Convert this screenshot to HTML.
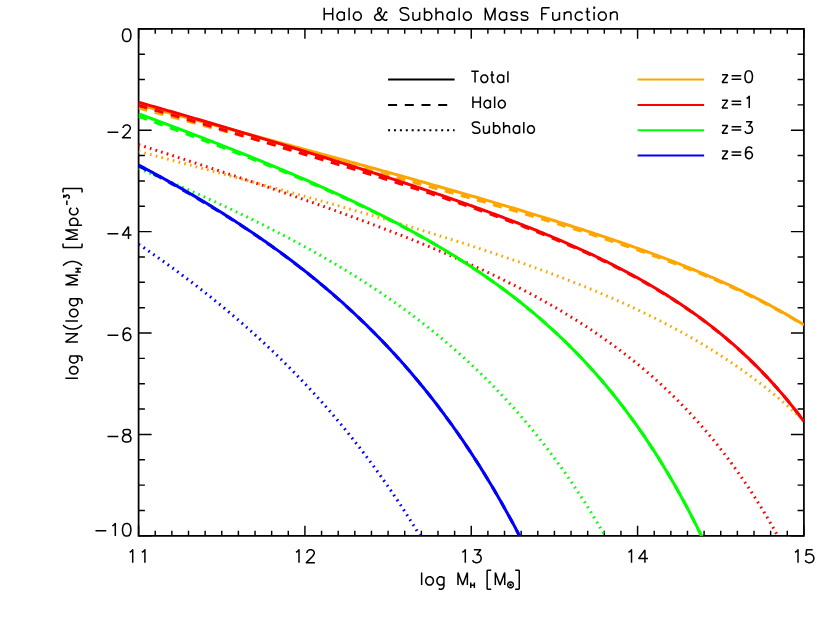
<!DOCTYPE html>
<html><head><meta charset="utf-8"><title>Halo &amp; Subhalo Mass Function</title>
<style>html,body{margin:0;padding:0;background:#fff;font-family:"Liberation Sans",sans-serif;}svg{display:block}</style></head>
<body><svg width="830" height="624" viewBox="0 0 830 624">
<rect width="830" height="624" fill="#fff"/>
<clipPath id="cp"><rect x="138.6" y="28.85" width="665.3" height="506.95"/></clipPath>
<path d="M138.6 28.85 H803.9 V535.8 H138.6 Z" stroke="#000" stroke-width="1.75" fill="none" stroke-linejoin="miter"/>
<path d="M138.60 28.85 v10 M138.60 535.8 v-10 M155.23 28.85 v5 M155.23 535.8 v-5 M171.87 28.85 v5 M171.87 535.8 v-5 M188.50 28.85 v5 M188.50 535.8 v-5 M205.13 28.85 v5 M205.13 535.8 v-5 M221.76 28.85 v5 M221.76 535.8 v-5 M238.39 28.85 v5 M238.39 535.8 v-5 M255.03 28.85 v5 M255.03 535.8 v-5 M271.66 28.85 v5 M271.66 535.8 v-5 M288.29 28.85 v5 M288.29 535.8 v-5 M304.92 28.85 v10 M304.92 535.8 v-10 M321.56 28.85 v5 M321.56 535.8 v-5 M338.19 28.85 v5 M338.19 535.8 v-5 M354.82 28.85 v5 M354.82 535.8 v-5 M371.45 28.85 v5 M371.45 535.8 v-5 M388.09 28.85 v5 M388.09 535.8 v-5 M404.72 28.85 v5 M404.72 535.8 v-5 M421.35 28.85 v5 M421.35 535.8 v-5 M437.99 28.85 v5 M437.99 535.8 v-5 M454.62 28.85 v5 M454.62 535.8 v-5 M471.25 28.85 v10 M471.25 535.8 v-10 M487.88 28.85 v5 M487.88 535.8 v-5 M504.51 28.85 v5 M504.51 535.8 v-5 M521.15 28.85 v5 M521.15 535.8 v-5 M537.78 28.85 v5 M537.78 535.8 v-5 M554.41 28.85 v5 M554.41 535.8 v-5 M571.04 28.85 v5 M571.04 535.8 v-5 M587.68 28.85 v5 M587.68 535.8 v-5 M604.31 28.85 v5 M604.31 535.8 v-5 M620.94 28.85 v5 M620.94 535.8 v-5 M637.58 28.85 v10 M637.58 535.8 v-10 M654.21 28.85 v5 M654.21 535.8 v-5 M670.84 28.85 v5 M670.84 535.8 v-5 M687.47 28.85 v5 M687.47 535.8 v-5 M704.10 28.85 v5 M704.10 535.8 v-5 M720.74 28.85 v5 M720.74 535.8 v-5 M737.37 28.85 v5 M737.37 535.8 v-5 M754.00 28.85 v5 M754.00 535.8 v-5 M770.63 28.85 v5 M770.63 535.8 v-5 M787.27 28.85 v5 M787.27 535.8 v-5 M803.90 28.85 v10 M803.90 535.8 v-10 M138.6 28.85 h13 M803.9 28.85 h-13 M138.6 54.20 h6.3 M803.9 54.20 h-6.3 M138.6 79.54 h6.3 M803.9 79.54 h-6.3 M138.6 104.89 h6.3 M803.9 104.89 h-6.3 M138.6 130.24 h13 M803.9 130.24 h-13 M138.6 155.59 h6.3 M803.9 155.59 h-6.3 M138.6 180.93 h6.3 M803.9 180.93 h-6.3 M138.6 206.28 h6.3 M803.9 206.28 h-6.3 M138.6 231.63 h13 M803.9 231.63 h-13 M138.6 256.98 h6.3 M803.9 256.98 h-6.3 M138.6 282.32 h6.3 M803.9 282.32 h-6.3 M138.6 307.67 h6.3 M803.9 307.67 h-6.3 M138.6 333.02 h13 M803.9 333.02 h-13 M138.6 358.37 h6.3 M803.9 358.37 h-6.3 M138.6 383.71 h6.3 M803.9 383.71 h-6.3 M138.6 409.06 h6.3 M803.9 409.06 h-6.3 M138.6 434.41 h13 M803.9 434.41 h-13 M138.6 459.76 h6.3 M803.9 459.76 h-6.3 M138.6 485.10 h6.3 M803.9 485.10 h-6.3 M138.6 510.45 h6.3 M803.9 510.45 h-6.3 M138.6 535.80 h13 M803.9 535.80 h-13" stroke="#000" stroke-width="1.45" fill="none" stroke-linejoin="round" stroke-linecap="butt"/>
<g clip-path="url(#cp)"><path d="M138.60 104.66 L140.27 105.11 L141.93 105.56 L143.60 106.00 L145.27 106.45 L146.94 106.89 L148.60 107.34 L150.27 107.79 L151.94 108.23 L153.61 108.68 L155.27 109.13 L156.94 109.57 L158.61 110.02 L160.28 110.47 L161.94 110.92 L163.61 111.36 L165.28 111.81 L166.95 112.26 L168.61 112.70 L170.28 113.15 L171.95 113.60 L173.62 114.04 L175.28 114.49 L176.95 114.94 L178.62 115.39 L180.29 115.83 L181.95 116.28 L183.62 116.73 L185.29 117.18 L186.96 117.62 L188.62 118.07 L190.29 118.52 L191.96 118.97 L193.62 119.41 L195.29 119.86 L196.96 120.31 L198.63 120.76 L200.29 121.21 L201.96 121.65 L203.63 122.10 L205.30 122.55 L206.96 123.00 L208.63 123.45 L210.30 123.90 L211.97 124.34 L213.63 124.79 L215.30 125.24 L216.97 125.69 L218.64 126.14 L220.30 126.59 L221.97 127.04 L223.64 127.48 L225.31 127.93 L226.97 128.38 L228.64 128.83 L230.31 129.28 L231.98 129.73 L233.64 130.18 L235.31 130.63 L236.98 131.08 L238.65 131.53 L240.31 131.98 L241.98 132.43 L243.65 132.88 L245.31 133.33 L246.98 133.78 L248.65 134.23 L250.32 134.68 L251.98 135.13 L253.65 135.58 L255.32 136.03 L256.99 136.48 L258.65 136.93 L260.32 137.38 L261.99 137.83 L263.66 138.28 L265.32 138.73 L266.99 139.18 L268.66 139.63 L270.33 140.08 L271.99 140.54 L273.66 140.99 L275.33 141.44 L277.00 141.89 L278.66 142.34 L280.33 142.79 L282.00 143.25 L283.67 143.70 L285.33 144.15 L287.00 144.60 L288.67 145.05 L290.34 145.51 L292.00 145.96 L293.67 146.41 L295.34 146.86 L297.00 147.32 L298.67 147.77 L300.34 148.22 L302.01 148.68 L303.67 149.13 L305.34 149.58 L307.01 150.04 L308.68 150.49 L310.34 150.95 L312.01 151.40 L313.68 151.85 L315.35 152.31 L317.01 152.76 L318.68 153.22 L320.35 153.67 L322.02 154.13 L323.68 154.58 L325.35 155.04 L327.02 155.49 L328.69 155.95 L330.35 156.40 L332.02 156.86 L333.69 157.32 L335.36 157.77 L337.02 158.23 L338.69 158.69 L340.36 159.14 L342.03 159.60 L343.69 160.06 L345.36 160.51 L347.03 160.97 L348.69 161.43 L350.36 161.89 L352.03 162.35 L353.70 162.80 L355.36 163.26 L357.03 163.72 L358.70 164.18 L360.37 164.64 L362.03 165.10 L363.70 165.56 L365.37 166.02 L367.04 166.48 L368.70 166.94 L370.37 167.40 L372.04 167.86 L373.71 168.32 L375.37 168.78 L377.04 169.24 L378.71 169.70 L380.38 170.17 L382.04 170.63 L383.71 171.09 L385.38 171.55 L387.05 172.02 L388.71 172.48 L390.38 172.94 L392.05 173.41 L393.72 173.87 L395.38 174.33 L397.05 174.80 L398.72 175.26 L400.38 175.73 L402.05 176.19 L403.72 176.66 L405.39 177.13 L407.05 177.59 L408.72 178.06 L410.39 178.53 L412.06 178.99 L413.72 179.46 L415.39 179.93 L417.06 180.40 L418.73 180.86 L420.39 181.33 L422.06 181.80 L423.73 182.27 L425.40 182.74 L427.06 183.21 L428.73 183.68 L430.40 184.15 L432.07 184.63 L433.73 185.10 L435.40 185.57 L437.07 186.04 L438.74 186.51 L440.40 186.99 L442.07 187.46 L443.74 187.94 L445.41 188.41 L447.07 188.89 L448.74 189.36 L450.41 189.84 L452.07 190.31 L453.74 190.79 L455.41 191.27 L457.08 191.75 L458.74 192.22 L460.41 192.70 L462.08 193.18 L463.75 193.66 L465.41 194.14 L467.08 194.62 L468.75 195.10 L470.42 195.58 L472.08 196.07 L473.75 196.55 L475.42 197.03 L477.09 197.52 L478.75 198.00 L480.42 198.48 L482.09 198.97 L483.76 199.46 L485.42 199.94 L487.09 200.43 L488.76 200.92 L490.43 201.41 L492.09 201.89 L493.76 202.38 L495.43 202.87 L497.09 203.37 L498.76 203.86 L500.43 204.35 L502.10 204.84 L503.76 205.34 L505.43 205.83 L507.10 206.32 L508.77 206.82 L510.43 207.32 L512.10 207.81 L513.77 208.31 L515.44 208.81 L517.10 209.31 L518.77 209.81 L520.44 210.31 L522.11 210.81 L523.77 211.31 L525.44 211.82 L527.11 212.32 L528.78 212.83 L530.44 213.33 L532.11 213.84 L533.78 214.35 L535.45 214.86 L537.11 215.36 L538.78 215.87 L540.45 216.39 L542.12 216.90 L543.78 217.41 L545.45 217.92 L547.12 218.44 L548.78 218.96 L550.45 219.47 L552.12 219.99 L553.79 220.51 L555.45 221.03 L557.12 221.55 L558.79 222.07 L560.46 222.60 L562.12 223.12 L563.79 223.64 L565.46 224.17 L567.13 224.70 L568.79 225.23 L570.46 225.76 L572.13 226.29 L573.80 226.82 L575.46 227.35 L577.13 227.89 L578.80 228.43 L580.47 228.96 L582.13 229.50 L583.80 230.04 L585.47 230.58 L587.14 231.13 L588.80 231.67 L590.47 232.22 L592.14 232.76 L593.81 233.31 L595.47 233.86 L597.14 234.41 L598.81 234.96 L600.47 235.52 L602.14 236.07 L603.81 236.63 L605.48 237.19 L607.14 237.75 L608.81 238.31 L610.48 238.88 L612.15 239.44 L613.81 240.01 L615.48 240.58 L617.15 241.15 L618.82 241.72 L620.48 242.29 L622.15 242.87 L623.82 243.45 L625.49 244.03 L627.15 244.61 L628.82 245.19 L630.49 245.78 L632.16 246.36 L633.82 246.95 L635.49 247.54 L637.16 248.14 L638.83 248.73 L640.49 249.33 L642.16 249.93 L643.83 250.53 L645.50 251.13 L647.16 251.74 L648.83 252.35 L650.50 252.96 L652.16 253.57 L653.83 254.19 L655.50 254.81 L657.17 255.43 L658.83 256.05 L660.50 256.67 L662.17 257.30 L663.84 257.93 L665.50 258.56 L667.17 259.20 L668.84 259.84 L670.51 260.48 L672.17 261.12 L673.84 261.77 L675.51 262.41 L677.18 263.07 L678.84 263.72 L680.51 264.38 L682.18 265.04 L683.85 265.70 L685.51 266.37 L687.18 267.04 L688.85 267.71 L690.52 268.39 L692.18 269.07 L693.85 269.75 L695.52 270.43 L697.19 271.12 L698.85 271.81 L700.52 272.51 L702.19 273.21 L703.85 273.91 L705.52 274.62 L707.19 275.33 L708.86 276.04 L710.52 276.76 L712.19 277.48 L713.86 278.21 L715.53 278.94 L717.19 279.67 L718.86 280.41 L720.53 281.15 L722.20 281.89 L723.86 282.64 L725.53 283.40 L727.20 284.15 L728.87 284.92 L730.53 285.68 L732.20 286.45 L733.87 287.23 L735.54 288.01 L737.20 288.79 L738.87 289.58 L740.54 290.38 L742.21 291.18 L743.87 291.98 L745.54 292.79 L747.21 293.61 L748.88 294.43 L750.54 295.25 L752.21 296.08 L753.88 296.92 L755.54 297.76 L757.21 298.60 L758.88 299.45 L760.55 300.31 L762.21 301.18 L763.88 302.04 L765.55 302.92 L767.22 303.80 L768.88 304.69 L770.55 305.58 L772.22 306.48 L773.89 307.39 L775.55 308.30 L777.22 309.22 L778.89 310.14 L780.56 311.07 L782.22 312.01 L783.89 312.96 L785.56 313.91 L787.23 314.87 L788.89 315.84 L790.56 316.81 L792.23 317.79 L793.90 318.78 L795.56 319.77 L797.23 320.78 L798.90 321.79 L800.57 322.81 L802.23 323.84 L803.90 324.87" stroke="#ffa500" stroke-width="3" fill="none"/><path d="M138.60 107.96 L140.27 108.41 L141.93 108.86 L143.60 109.31 L145.27 109.76 L146.94 110.20 L148.60 110.65 L150.27 111.10 L151.94 111.55 L153.61 112.00 L155.27 112.45 L156.94 112.90 L158.61 113.35 L160.28 113.79 L161.94 114.24 L163.61 114.69 L165.28 115.14 L166.95 115.59 L168.61 116.04 L170.28 116.49 L171.95 116.94 L173.62 117.39 L175.28 117.84 L176.95 118.29 L178.62 118.73 L180.29 119.18 L181.95 119.63 L183.62 120.08 L185.29 120.53 L186.96 120.98 L188.62 121.43 L190.29 121.88 L191.96 122.33 L193.62 122.78 L195.29 123.23 L196.96 123.68 L198.63 124.13 L200.29 124.58 L201.96 125.03 L203.63 125.48 L205.30 125.93 L206.96 126.38 L208.63 126.83 L210.30 127.28 L211.97 127.73 L213.63 128.18 L215.30 128.63 L216.97 129.08 L218.64 129.53 L220.30 129.99 L221.97 130.44 L223.64 130.88 L225.31 131.33 L226.97 131.77 L228.64 132.22 L230.31 132.66 L231.98 133.11 L233.64 133.55 L235.31 134.00 L236.98 134.44 L238.65 134.89 L240.31 135.33 L241.98 135.78 L243.65 136.22 L245.31 136.67 L246.98 137.12 L248.65 137.56 L250.32 138.01 L251.98 138.45 L253.65 138.90 L255.32 139.35 L256.99 139.79 L258.65 140.24 L260.32 140.69 L261.99 141.13 L263.66 141.58 L265.32 142.03 L266.99 142.47 L268.66 142.92 L270.33 143.37 L271.99 143.81 L273.66 144.26 L275.33 144.71 L277.00 145.16 L278.66 145.60 L280.33 146.05 L282.00 146.50 L283.67 146.95 L285.33 147.40 L287.00 147.84 L288.67 148.29 L290.34 148.74 L292.00 149.19 L293.67 149.64 L295.34 150.09 L297.00 150.54 L298.67 150.99 L300.34 151.43 L302.01 151.88 L303.67 152.33 L305.34 152.78 L307.01 153.23 L308.68 153.68 L310.34 154.13 L312.01 154.58 L313.68 155.03 L315.35 155.48 L317.01 155.93 L318.68 156.38 L320.35 156.84 L322.02 157.29 L323.68 157.74 L325.35 158.19 L327.02 158.64 L328.69 159.09 L330.35 159.54 L332.02 160.00 L333.69 160.45 L335.36 160.90 L337.02 161.35 L338.69 161.81 L340.36 162.26 L342.03 162.71 L343.69 163.16 L345.36 163.62 L347.03 164.07 L348.69 164.52 L350.36 164.98 L352.03 165.43 L353.70 165.89 L355.36 166.34 L357.03 166.80 L358.70 167.25 L360.37 167.71 L362.03 168.16 L363.70 168.62 L365.37 169.07 L367.04 169.53 L368.70 169.98 L370.37 170.44 L372.04 170.90 L373.71 171.35 L375.37 171.81 L377.04 172.27 L378.71 172.73 L380.38 173.18 L382.04 173.64 L383.71 174.10 L385.38 174.56 L387.05 175.02 L388.71 175.48 L390.38 175.93 L392.05 176.38 L393.72 176.84 L395.38 177.29 L397.05 177.75 L398.72 178.20 L400.38 178.65 L402.05 179.11 L403.72 179.57 L405.39 180.02 L407.05 180.48 L408.72 180.93 L410.39 181.39 L412.06 181.85 L413.72 182.31 L415.39 182.76 L417.06 183.22 L418.73 183.68 L420.39 184.14 L422.06 184.60 L423.73 185.06 L425.40 185.52 L427.06 185.98 L428.73 186.44 L430.40 186.90 L432.07 187.36 L433.73 187.82 L435.40 188.29 L437.07 188.75 L438.74 189.21 L440.40 189.67 L442.07 190.14 L443.74 190.60 L445.41 191.07 L447.07 191.53 L448.74 192.00 L450.41 192.46 L452.07 192.93 L453.74 193.40 L455.41 193.86 L457.08 194.33 L458.74 194.80 L460.41 195.27 L462.08 195.74 L463.75 196.21 L465.41 196.68 L467.08 197.15 L468.75 197.62 L470.42 198.09 L472.08 198.56 L473.75 199.04 L475.42 199.51 L477.09 199.99 L478.75 200.46 L480.42 200.94 L482.09 201.42 L483.76 201.90 L485.42 202.37 L487.09 202.85 L488.76 203.33 L490.43 203.81 L492.09 204.29 L493.76 204.78 L495.43 205.26 L497.09 205.74 L498.76 206.22 L500.43 206.71 L502.10 207.19 L503.76 207.68 L505.43 208.17 L507.10 208.65 L508.77 209.14 L510.43 209.63 L512.10 210.12 L513.77 210.61 L515.44 211.10 L517.10 211.59 L518.77 212.08 L520.44 212.57 L522.11 213.07 L523.77 213.56 L525.44 214.06 L527.11 214.55 L528.78 215.05 L530.44 215.55 L532.11 216.05 L533.78 216.55 L535.45 217.05 L537.11 217.55 L538.78 218.05 L540.45 218.55 L542.12 219.06 L543.78 219.56 L545.45 220.07 L547.12 220.57 L548.78 221.08 L550.45 221.59 L552.12 222.10 L553.79 222.61 L555.45 223.12 L557.12 223.64 L558.79 224.15 L560.46 224.67 L562.12 225.18 L563.79 225.70 L565.46 226.22 L567.13 226.74 L568.79 227.26 L570.46 227.78 L572.13 228.30 L573.80 228.83 L575.46 229.35 L577.13 229.88 L578.80 230.41 L580.47 230.94 L582.13 231.47 L583.80 232.00 L585.47 232.53 L587.14 233.07 L588.80 233.60 L590.47 234.14 L592.14 234.68 L593.81 235.22 L595.47 235.76 L597.14 236.31 L598.81 236.85 L600.47 237.40 L602.14 237.94 L603.81 238.49 L605.48 239.04 L607.14 239.60 L608.81 240.15 L610.48 240.71 L612.15 241.26 L613.81 241.82 L615.48 242.38 L617.15 242.95 L618.82 243.51 L620.48 244.08 L622.15 244.64 L623.82 245.21 L625.49 245.78 L627.15 246.36 L628.82 246.93 L630.49 247.51 L632.16 248.09 L633.82 248.67 L635.49 249.25 L637.16 249.84 L638.83 250.42 L640.49 251.01 L642.16 251.59 L643.83 252.18 L645.50 252.77 L647.16 253.36 L648.83 253.95 L650.50 254.55 L652.16 255.15 L653.83 255.75 L655.50 256.35 L657.17 256.96 L658.83 257.57 L660.50 258.18 L662.17 258.79 L663.84 259.41 L665.50 260.03 L667.17 260.65 L668.84 261.27 L670.51 261.90 L672.17 262.53 L673.84 263.16 L675.51 263.80 L677.18 264.43 L678.84 265.07 L680.51 265.72 L682.18 266.36 L683.85 267.01 L685.51 267.66 L687.18 268.32 L688.85 268.98 L690.52 269.64 L692.18 270.31 L693.85 270.97 L695.52 271.65 L697.19 272.32 L698.85 273.00 L700.52 273.68 L702.19 274.37 L703.85 275.05 L705.52 275.75 L707.19 276.44 L708.86 277.14 L710.52 277.85 L712.19 278.55 L713.86 279.26 L715.53 279.98 L717.19 280.70 L718.86 281.42 L720.53 282.15 L722.20 282.88 L723.86 283.62 L725.53 284.36 L727.20 285.11 L728.87 285.86 L730.53 286.61 L732.20 287.37 L733.87 288.13 L735.54 288.90 L737.20 289.68 L738.87 290.45 L740.54 291.24 L742.21 292.02 L743.87 292.82 L745.54 293.61 L747.21 294.42 L748.88 295.22 L750.54 296.04 L752.21 296.85 L753.88 297.68 L755.54 298.51 L757.21 299.34 L758.88 300.18 L760.55 301.02 L762.21 301.88 L763.88 302.73 L765.55 303.60 L767.22 304.46 L768.88 305.34 L770.55 306.22 L772.22 307.11 L773.89 308.00 L775.55 308.90 L777.22 309.81 L778.89 310.72 L780.56 311.64 L782.22 312.57 L783.89 313.50 L785.56 314.44 L787.23 315.39 L788.89 316.34 L790.56 317.31 L792.23 318.27 L793.90 319.25 L795.56 320.24 L797.23 321.23 L798.90 322.23 L800.57 323.23 L802.23 324.25 L803.90 325.27" stroke="#ffa500" stroke-width="3" fill="none" stroke-dasharray="9 7.7"/><path d="M138.60 151.38 L140.27 151.83 L141.93 152.27 L143.60 152.71 L145.27 153.15 L146.94 153.60 L148.60 154.04 L150.27 154.48 L151.94 154.92 L153.61 155.37 L155.27 155.81 L156.94 156.25 L158.61 156.70 L160.28 157.14 L161.94 157.59 L163.61 158.03 L165.28 158.47 L166.95 158.92 L168.61 159.36 L170.28 159.81 L171.95 160.25 L173.62 160.70 L175.28 161.14 L176.95 161.59 L178.62 162.03 L180.29 162.48 L181.95 162.92 L183.62 163.37 L185.29 163.81 L186.96 164.26 L188.62 164.71 L190.29 165.15 L191.96 165.60 L193.62 166.05 L195.29 166.49 L196.96 166.94 L198.63 167.39 L200.29 167.84 L201.96 168.28 L203.63 168.73 L205.30 169.18 L206.96 169.63 L208.63 170.08 L210.30 170.53 L211.97 170.98 L213.63 171.42 L215.30 171.87 L216.97 172.32 L218.64 172.77 L220.30 173.22 L221.97 173.67 L223.64 174.12 L225.31 174.57 L226.97 175.03 L228.64 175.48 L230.31 175.93 L231.98 176.38 L233.64 176.83 L235.31 177.28 L236.98 177.74 L238.65 178.19 L240.31 178.64 L241.98 179.09 L243.65 179.55 L245.31 180.00 L246.98 180.45 L248.65 180.91 L250.32 181.36 L251.98 181.82 L253.65 182.27 L255.32 182.73 L256.99 183.18 L258.65 183.64 L260.32 184.09 L261.99 184.55 L263.66 185.01 L265.32 185.46 L266.99 185.92 L268.66 186.38 L270.33 186.84 L271.99 187.29 L273.66 187.75 L275.33 188.21 L277.00 188.67 L278.66 189.13 L280.33 189.59 L282.00 190.05 L283.67 190.51 L285.33 190.97 L287.00 191.43 L288.67 191.89 L290.34 192.35 L292.00 192.82 L293.67 193.28 L295.34 193.74 L297.00 194.20 L298.67 194.67 L300.34 195.13 L302.01 195.60 L303.67 196.06 L305.34 196.53 L307.01 196.99 L308.68 197.46 L310.34 197.92 L312.01 198.39 L313.68 198.86 L315.35 199.33 L317.01 199.79 L318.68 200.26 L320.35 200.73 L322.02 201.20 L323.68 201.67 L325.35 202.14 L327.02 202.61 L328.69 203.08 L330.35 203.55 L332.02 204.02 L333.69 204.50 L335.36 204.97 L337.02 205.44 L338.69 205.92 L340.36 206.39 L342.03 206.87 L343.69 207.34 L345.36 207.82 L347.03 208.30 L348.69 208.77 L350.36 209.25 L352.03 209.73 L353.70 210.21 L355.36 210.69 L357.03 211.17 L358.70 211.65 L360.37 212.13 L362.03 212.61 L363.70 213.09 L365.37 213.57 L367.04 214.06 L368.70 214.54 L370.37 215.03 L372.04 215.51 L373.71 216.00 L375.37 216.48 L377.04 216.97 L378.71 217.46 L380.38 217.95 L382.04 218.44 L383.71 218.93 L385.38 219.42 L387.05 219.91 L388.71 220.40 L390.38 220.89 L392.05 221.39 L393.72 221.88 L395.38 222.38 L397.05 222.87 L398.72 223.37 L400.38 223.87 L402.05 224.36 L403.72 224.86 L405.39 225.36 L407.05 225.86 L408.72 226.36 L410.39 226.87 L412.06 227.37 L413.72 227.87 L415.39 228.38 L417.06 228.88 L418.73 229.39 L420.39 229.90 L422.06 230.40 L423.73 230.91 L425.40 231.42 L427.06 231.93 L428.73 232.45 L430.40 232.96 L432.07 233.47 L433.73 233.99 L435.40 234.50 L437.07 235.02 L438.74 235.54 L440.40 236.06 L442.07 236.58 L443.74 237.10 L445.41 237.62 L447.07 238.14 L448.74 238.67 L450.41 239.19 L452.07 239.72 L453.74 240.24 L455.41 240.77 L457.08 241.30 L458.74 241.83 L460.41 242.37 L462.08 242.90 L463.75 243.43 L465.41 243.97 L467.08 244.51 L468.75 245.05 L470.42 245.58 L472.08 246.13 L473.75 246.67 L475.42 247.21 L477.09 247.76 L478.75 248.30 L480.42 248.85 L482.09 249.40 L483.76 249.95 L485.42 250.50 L487.09 251.05 L488.76 251.61 L490.43 252.16 L492.09 252.72 L493.76 253.28 L495.43 253.84 L497.09 254.40 L498.76 254.97 L500.43 255.53 L502.10 256.10 L503.76 256.67 L505.43 257.24 L507.10 257.81 L508.77 258.38 L510.43 258.96 L512.10 259.53 L513.77 260.11 L515.44 260.69 L517.10 261.27 L518.77 261.86 L520.44 262.44 L522.11 263.03 L523.77 263.62 L525.44 264.21 L527.11 264.80 L528.78 265.40 L530.44 266.00 L532.11 266.60 L533.78 267.20 L535.45 267.80 L537.11 268.40 L538.78 269.01 L540.45 269.62 L542.12 270.23 L543.78 270.85 L545.45 271.46 L547.12 272.08 L548.78 272.70 L550.45 273.32 L552.12 273.95 L553.79 274.57 L555.45 275.20 L557.12 275.83 L558.79 276.47 L560.46 277.10 L562.12 277.74 L563.79 278.38 L565.46 279.03 L567.13 279.67 L568.79 280.32 L570.46 280.97 L572.13 281.63 L573.80 282.28 L575.46 282.94 L577.13 283.61 L578.80 284.27 L580.47 284.94 L582.13 285.61 L583.80 286.28 L585.47 286.96 L587.14 287.64 L588.80 288.32 L590.47 289.01 L592.14 289.69 L593.81 290.38 L595.47 291.08 L597.14 291.78 L598.81 292.48 L600.47 293.18 L602.14 293.89 L603.81 294.60 L605.48 295.31 L607.14 296.03 L608.81 296.75 L610.48 297.47 L612.15 298.20 L613.81 298.93 L615.48 299.67 L617.15 300.40 L618.82 301.15 L620.48 301.89 L622.15 302.64 L623.82 303.39 L625.49 304.15 L627.15 304.91 L628.82 305.68 L630.49 306.44 L632.16 307.22 L633.82 307.99 L635.49 308.77 L637.16 309.56 L638.83 310.35 L640.49 311.14 L642.16 311.94 L643.83 312.74 L645.50 313.55 L647.16 314.36 L648.83 315.18 L650.50 316.00 L652.16 316.82 L653.83 317.65 L655.50 318.48 L657.17 319.32 L658.83 320.17 L660.50 321.02 L662.17 321.87 L663.84 322.73 L665.50 323.59 L667.17 324.46 L668.84 325.34 L670.51 326.22 L672.17 327.10 L673.84 327.99 L675.51 328.89 L677.18 329.79 L678.84 330.70 L680.51 331.61 L682.18 332.53 L683.85 333.45 L685.51 334.38 L687.18 335.32 L688.85 336.26 L690.52 337.21 L692.18 338.16 L693.85 339.13 L695.52 340.09 L697.19 341.07 L698.85 342.05 L700.52 343.03 L702.19 344.03 L703.85 345.03 L705.52 346.03 L707.19 347.05 L708.86 348.07 L710.52 349.09 L712.19 350.13 L713.86 351.17 L715.53 352.22 L717.19 353.28 L718.86 354.34 L720.53 355.41 L722.20 356.49 L723.86 357.58 L725.53 358.67 L727.20 359.77 L728.87 360.89 L730.53 362.00 L732.20 363.13 L733.87 364.27 L735.54 365.41 L737.20 366.56 L738.87 367.72 L740.54 368.89 L742.21 370.07 L743.87 371.26 L745.54 372.45 L747.21 373.66 L748.88 374.87 L750.54 376.10 L752.21 377.33 L753.88 378.58 L755.54 379.83 L757.21 381.09 L758.88 382.36 L760.55 383.65 L762.21 384.94 L763.88 386.24 L765.55 387.56 L767.22 388.88 L768.88 390.21 L770.55 391.56 L772.22 392.92 L773.89 394.28 L775.55 395.66 L777.22 397.05 L778.89 398.45 L780.56 399.87 L782.22 401.29 L783.89 402.73 L785.56 404.18 L787.23 405.64 L788.89 407.11 L790.56 408.59 L792.23 410.09 L793.90 411.60 L795.56 413.13 L797.23 414.66 L798.90 416.21 L800.57 417.78 L802.23 419.35 L803.90 420.94" stroke="#ffa500" stroke-width="3" fill="none" stroke-dasharray="1.7 4.2"/><path d="M138.60 102.32 L140.27 102.78 L141.93 103.25 L143.60 103.72 L145.27 104.19 L146.94 104.66 L148.60 105.13 L150.27 105.60 L151.94 106.07 L153.61 106.54 L155.27 107.01 L156.94 107.49 L158.61 107.96 L160.28 108.44 L161.94 108.92 L163.61 109.39 L165.28 109.87 L166.95 110.35 L168.61 110.83 L170.28 111.31 L171.95 111.79 L173.62 112.27 L175.28 112.75 L176.95 113.23 L178.62 113.71 L180.29 114.20 L181.95 114.68 L183.62 115.16 L185.29 115.65 L186.96 116.13 L188.62 116.62 L190.29 117.10 L191.96 117.59 L193.62 118.08 L195.29 118.57 L196.96 119.05 L198.63 119.54 L200.29 120.03 L201.96 120.52 L203.63 121.01 L205.30 121.50 L206.96 121.99 L208.63 122.48 L210.30 122.97 L211.97 123.46 L213.63 123.95 L215.30 124.45 L216.97 124.94 L218.64 125.43 L220.30 125.92 L221.97 126.42 L223.64 126.91 L225.31 127.41 L226.97 127.90 L228.64 128.40 L230.31 128.89 L231.98 129.39 L233.64 129.88 L235.31 130.38 L236.98 130.88 L238.65 131.37 L240.31 131.87 L241.98 132.37 L243.65 132.87 L245.31 133.37 L246.98 133.86 L248.65 134.36 L250.32 134.86 L251.98 135.36 L253.65 135.86 L255.32 136.36 L256.99 136.86 L258.65 137.37 L260.32 137.87 L261.99 138.37 L263.66 138.87 L265.32 139.37 L266.99 139.88 L268.66 140.38 L270.33 140.88 L271.99 141.39 L273.66 141.89 L275.33 142.40 L277.00 142.90 L278.66 143.41 L280.33 143.91 L282.00 144.42 L283.67 144.93 L285.33 145.43 L287.00 145.94 L288.67 146.45 L290.34 146.96 L292.00 147.46 L293.67 147.97 L295.34 148.48 L297.00 148.99 L298.67 149.50 L300.34 150.01 L302.01 150.52 L303.67 151.03 L305.34 151.54 L307.01 152.06 L308.68 152.57 L310.34 153.08 L312.01 153.60 L313.68 154.11 L315.35 154.62 L317.01 155.14 L318.68 155.65 L320.35 156.17 L322.02 156.68 L323.68 157.20 L325.35 157.72 L327.02 158.23 L328.69 158.75 L330.35 159.27 L332.02 159.79 L333.69 160.31 L335.36 160.83 L337.02 161.35 L338.69 161.87 L340.36 162.39 L342.03 162.91 L343.69 163.44 L345.36 163.96 L347.03 164.48 L348.69 165.01 L350.36 165.53 L352.03 166.06 L353.70 166.58 L355.36 167.11 L357.03 167.64 L358.70 168.16 L360.37 168.69 L362.03 169.22 L363.70 169.75 L365.37 170.28 L367.04 170.81 L368.70 171.34 L370.37 171.87 L372.04 172.41 L373.71 172.94 L375.37 173.47 L377.04 174.01 L378.71 174.54 L380.38 175.08 L382.04 175.62 L383.71 176.15 L385.38 176.69 L387.05 177.23 L388.71 177.77 L390.38 178.31 L392.05 178.85 L393.72 179.40 L395.38 179.94 L397.05 180.48 L398.72 181.03 L400.38 181.57 L402.05 182.12 L403.72 182.67 L405.39 183.22 L407.05 183.76 L408.72 184.31 L410.39 184.87 L412.06 185.42 L413.72 185.97 L415.39 186.52 L417.06 187.08 L418.73 187.63 L420.39 188.19 L422.06 188.75 L423.73 189.31 L425.40 189.87 L427.06 190.43 L428.73 190.99 L430.40 191.55 L432.07 192.12 L433.73 192.68 L435.40 193.25 L437.07 193.81 L438.74 194.38 L440.40 194.95 L442.07 195.52 L443.74 196.10 L445.41 196.67 L447.07 197.24 L448.74 197.82 L450.41 198.40 L452.07 198.97 L453.74 199.55 L455.41 200.14 L457.08 200.72 L458.74 201.30 L460.41 201.89 L462.08 202.47 L463.75 203.06 L465.41 203.65 L467.08 204.24 L468.75 204.83 L470.42 205.43 L472.08 206.02 L473.75 206.62 L475.42 207.22 L477.09 207.82 L478.75 208.42 L480.42 209.02 L482.09 209.63 L483.76 210.23 L485.42 210.84 L487.09 211.45 L488.76 212.06 L490.43 212.68 L492.09 213.29 L493.76 213.91 L495.43 214.53 L497.09 215.15 L498.76 215.77 L500.43 216.40 L502.10 217.02 L503.76 217.65 L505.43 218.28 L507.10 218.91 L508.77 219.55 L510.43 220.19 L512.10 220.83 L513.77 221.47 L515.44 222.11 L517.10 222.75 L518.77 223.40 L520.44 224.05 L522.11 224.70 L523.77 225.36 L525.44 226.02 L527.11 226.68 L528.78 227.34 L530.44 228.00 L532.11 228.67 L533.78 229.34 L535.45 230.01 L537.11 230.68 L538.78 231.36 L540.45 232.04 L542.12 232.72 L543.78 233.41 L545.45 234.10 L547.12 234.79 L548.78 235.48 L550.45 236.18 L552.12 236.88 L553.79 237.58 L555.45 238.29 L557.12 239.00 L558.79 239.71 L560.46 240.42 L562.12 241.14 L563.79 241.86 L565.46 242.59 L567.13 243.32 L568.79 244.05 L570.46 244.78 L572.13 245.52 L573.80 246.27 L575.46 247.01 L577.13 247.76 L578.80 248.51 L580.47 249.27 L582.13 250.03 L583.80 250.80 L585.47 251.57 L587.14 252.34 L588.80 253.11 L590.47 253.90 L592.14 254.68 L593.81 255.47 L595.47 256.26 L597.14 257.06 L598.81 257.86 L600.47 258.67 L602.14 259.48 L603.81 260.29 L605.48 261.11 L607.14 261.94 L608.81 262.77 L610.48 263.60 L612.15 264.44 L613.81 265.29 L615.48 266.13 L617.15 266.99 L618.82 267.85 L620.48 268.71 L622.15 269.58 L623.82 270.46 L625.49 271.34 L627.15 272.22 L628.82 273.12 L630.49 274.01 L632.16 274.92 L633.82 275.83 L635.49 276.74 L637.16 277.66 L638.83 278.59 L640.49 279.52 L642.16 280.46 L643.83 281.41 L645.50 282.36 L647.16 283.32 L648.83 284.28 L650.50 285.26 L652.16 286.24 L653.83 287.22 L655.50 288.22 L657.17 289.22 L658.83 290.22 L660.50 291.24 L662.17 292.26 L663.84 293.29 L665.50 294.33 L667.17 295.37 L668.84 296.42 L670.51 297.48 L672.17 298.55 L673.84 299.63 L675.51 300.71 L677.18 301.81 L678.84 302.91 L680.51 304.02 L682.18 305.14 L683.85 306.27 L685.51 307.41 L687.18 308.55 L688.85 309.71 L690.52 310.87 L692.18 312.05 L693.85 313.23 L695.52 314.43 L697.19 315.63 L698.85 316.84 L700.52 318.07 L702.19 319.30 L703.85 320.55 L705.52 321.80 L707.19 323.07 L708.86 324.35 L710.52 325.63 L712.19 326.93 L713.86 328.24 L715.53 329.57 L717.19 330.90 L718.86 332.25 L720.53 333.61 L722.20 334.98 L723.86 336.36 L725.53 337.75 L727.20 339.16 L728.87 340.58 L730.53 342.02 L732.20 343.46 L733.87 344.92 L735.54 346.40 L737.20 347.89 L738.87 349.39 L740.54 350.90 L742.21 352.44 L743.87 353.98 L745.54 355.54 L747.21 357.12 L748.88 358.71 L750.54 360.31 L752.21 361.93 L753.88 363.57 L755.54 365.23 L757.21 366.90 L758.88 368.58 L760.55 370.29 L762.21 372.01 L763.88 373.74 L765.55 375.50 L767.22 377.27 L768.88 379.06 L770.55 380.87 L772.22 382.70 L773.89 384.55 L775.55 386.41 L777.22 388.30 L778.89 390.20 L780.56 392.12 L782.22 394.07 L783.89 396.03 L785.56 398.02 L787.23 400.03 L788.89 402.05 L790.56 404.10 L792.23 406.17 L793.90 408.27 L795.56 410.38 L797.23 412.52 L798.90 414.68 L800.57 416.87 L802.23 419.08 L803.90 421.31" stroke="#ff0000" stroke-width="3" fill="none"/><path d="M138.60 105.52 L140.27 105.98 L141.93 106.45 L143.60 106.91 L145.27 107.38 L146.94 107.85 L148.60 108.31 L150.27 108.78 L151.94 109.25 L153.61 109.72 L155.27 110.19 L156.94 110.67 L158.61 111.14 L160.28 111.61 L161.94 112.09 L163.61 112.56 L165.28 113.04 L166.95 113.51 L168.61 113.99 L170.28 114.47 L171.95 114.95 L173.62 115.43 L175.28 115.91 L176.95 116.39 L178.62 116.87 L180.29 117.35 L181.95 117.83 L183.62 118.31 L185.29 118.79 L186.96 119.28 L188.62 119.76 L190.29 120.24 L191.96 120.73 L193.62 121.21 L195.29 121.70 L196.96 122.18 L198.63 122.67 L200.29 123.16 L201.96 123.64 L203.63 124.13 L205.30 124.62 L206.96 125.11 L208.63 125.59 L210.30 126.08 L211.97 126.57 L213.63 127.06 L215.30 127.55 L216.97 128.04 L218.64 128.53 L220.30 129.03 L221.97 129.52 L223.64 130.01 L225.31 130.50 L226.97 130.99 L228.64 131.49 L230.31 131.98 L231.98 132.47 L233.64 132.97 L235.31 133.46 L236.98 133.96 L238.65 134.45 L240.31 134.95 L241.98 135.44 L243.65 135.94 L245.31 136.44 L246.98 136.93 L248.65 137.43 L250.32 137.93 L251.98 138.43 L253.65 138.92 L255.32 139.42 L256.99 139.92 L258.65 140.42 L260.32 140.92 L261.99 141.42 L263.66 141.92 L265.32 142.42 L266.99 142.92 L268.66 143.42 L270.33 143.93 L271.99 144.43 L273.66 144.93 L275.33 145.43 L277.00 145.94 L278.66 146.44 L280.33 146.94 L282.00 147.45 L283.67 147.95 L285.33 148.46 L287.00 148.96 L288.67 149.47 L290.34 149.97 L292.00 150.48 L293.67 150.99 L295.34 151.49 L297.00 152.00 L298.67 152.51 L300.34 153.02 L302.01 153.53 L303.67 154.03 L305.34 154.54 L307.01 155.04 L308.68 155.54 L310.34 156.04 L312.01 156.54 L313.68 157.04 L315.35 157.54 L317.01 158.04 L318.68 158.54 L320.35 159.04 L322.02 159.54 L323.68 160.04 L325.35 160.55 L327.02 161.05 L328.69 161.55 L330.35 162.06 L332.02 162.56 L333.69 163.07 L335.36 163.57 L337.02 164.08 L338.69 164.59 L340.36 165.09 L342.03 165.60 L343.69 166.11 L345.36 166.62 L347.03 167.13 L348.69 167.64 L350.36 168.15 L352.03 168.66 L353.70 169.17 L355.36 169.68 L357.03 170.20 L358.70 170.71 L360.37 171.22 L362.03 171.74 L363.70 172.25 L365.37 172.77 L367.04 173.29 L368.70 173.80 L370.37 174.32 L372.04 174.84 L373.71 175.36 L375.37 175.88 L377.04 176.40 L378.71 176.92 L380.38 177.44 L382.04 177.97 L383.71 178.49 L385.38 179.02 L387.05 179.54 L388.71 180.07 L390.38 180.59 L392.05 181.12 L393.72 181.64 L395.38 182.17 L397.05 182.70 L398.72 183.23 L400.38 183.76 L402.05 184.29 L403.72 184.82 L405.39 185.35 L407.05 185.88 L408.72 186.42 L410.39 186.95 L412.06 187.49 L413.72 188.02 L415.39 188.56 L417.06 189.10 L418.73 189.64 L420.39 190.18 L422.06 190.72 L423.73 191.26 L425.40 191.81 L427.06 192.35 L428.73 192.90 L430.40 193.45 L432.07 193.99 L433.73 194.54 L435.40 195.09 L437.07 195.64 L438.74 196.20 L440.40 196.75 L442.07 197.30 L443.74 197.86 L445.41 198.42 L447.07 198.98 L448.74 199.54 L450.41 200.10 L452.07 200.66 L453.74 201.22 L455.41 201.79 L457.08 202.35 L458.74 202.92 L460.41 203.49 L462.08 204.06 L463.75 204.63 L465.41 205.21 L467.08 205.78 L468.75 206.36 L470.42 206.93 L472.08 207.52 L473.75 208.11 L475.42 208.70 L477.09 209.29 L478.75 209.88 L480.42 210.48 L482.09 211.07 L483.76 211.67 L485.42 212.27 L487.09 212.88 L488.76 213.48 L490.43 214.08 L492.09 214.69 L493.76 215.30 L495.43 215.91 L497.09 216.52 L498.76 217.14 L500.43 217.76 L502.10 218.37 L503.76 219.00 L505.43 219.62 L507.10 220.24 L508.77 220.87 L510.43 221.50 L512.10 222.13 L513.77 222.76 L515.44 223.40 L517.10 224.03 L518.77 224.67 L520.44 225.32 L522.11 225.96 L523.77 226.61 L525.44 227.26 L527.11 227.91 L528.78 228.56 L530.44 229.22 L532.11 229.88 L533.78 230.54 L535.45 231.20 L537.11 231.87 L538.78 232.54 L540.45 233.21 L542.12 233.88 L543.78 234.56 L545.45 235.24 L547.12 235.92 L548.78 236.61 L550.45 237.30 L552.12 237.99 L553.79 238.69 L555.45 239.38 L557.12 240.08 L558.79 240.78 L560.46 241.49 L562.12 242.20 L563.79 242.91 L565.46 243.62 L567.13 244.34 L568.79 245.06 L570.46 245.79 L572.13 246.52 L573.80 247.25 L575.46 247.99 L577.13 248.72 L578.80 249.47 L580.47 250.21 L582.13 250.97 L583.80 251.72 L585.47 252.48 L587.14 253.24 L588.80 254.01 L590.47 254.78 L592.14 255.55 L593.81 256.33 L595.47 257.12 L597.14 257.90 L598.81 258.69 L600.47 259.49 L602.14 260.29 L603.81 261.10 L605.48 261.91 L607.14 262.72 L608.81 263.54 L610.48 264.36 L612.15 265.19 L613.81 266.03 L615.48 266.87 L617.15 267.71 L618.82 268.56 L620.48 269.41 L622.15 270.27 L623.82 271.14 L625.49 272.01 L627.15 272.89 L628.82 273.77 L630.49 274.66 L632.16 275.55 L633.82 276.45 L635.49 277.35 L637.16 278.26 L638.83 279.18 L640.49 280.11 L642.16 281.04 L643.83 281.98 L645.50 282.92 L647.16 283.87 L648.83 284.83 L650.50 285.79 L652.16 286.77 L653.83 287.74 L655.50 288.73 L657.17 289.72 L658.83 290.72 L660.50 291.73 L662.17 292.74 L663.84 293.76 L665.50 294.79 L667.17 295.83 L668.84 296.87 L670.51 297.93 L672.17 298.99 L673.84 300.06 L675.51 301.13 L677.18 302.22 L678.84 303.31 L680.51 304.41 L682.18 305.53 L683.85 306.65 L685.51 307.78 L687.18 308.91 L688.85 310.06 L690.52 311.22 L692.18 312.38 L693.85 313.56 L695.52 314.75 L697.19 315.94 L698.85 317.15 L700.52 318.36 L702.19 319.59 L703.85 320.83 L705.52 322.08 L707.19 323.33 L708.86 324.60 L710.52 325.88 L712.19 327.17 L713.86 328.48 L715.53 329.79 L717.19 331.12 L718.86 332.46 L720.53 333.81 L722.20 335.17 L723.86 336.55 L725.53 337.94 L727.20 339.35 L728.87 340.76 L730.53 342.19 L732.20 343.64 L733.87 345.09 L735.54 346.56 L737.20 348.05 L738.87 349.54 L740.54 351.06 L742.21 352.58 L743.87 354.13 L745.54 355.68 L747.21 357.25 L748.88 358.84 L750.54 360.44 L752.21 362.06 L753.88 363.69 L755.54 365.34 L757.21 367.01 L758.88 368.69 L760.55 370.39 L762.21 372.11 L763.88 373.84 L765.55 375.59 L767.22 377.36 L768.88 379.15 L770.55 380.95 L772.22 382.78 L773.89 384.62 L775.55 386.48 L777.22 388.36 L778.89 390.26 L780.56 392.18 L782.22 394.12 L783.89 396.08 L785.56 398.06 L787.23 400.07 L788.89 402.09 L790.56 404.13 L792.23 406.20 L793.90 408.29 L795.56 410.40 L797.23 412.54 L798.90 414.70 L800.57 416.88 L802.23 419.08 L803.90 421.31" stroke="#ff0000" stroke-width="3" fill="none" stroke-dasharray="9 7.7"/><path d="M138.60 144.64 L140.27 145.17 L141.93 145.71 L143.60 146.25 L145.27 146.78 L146.94 147.32 L148.60 147.86 L150.27 148.39 L151.94 148.93 L153.61 149.47 L155.27 150.01 L156.94 150.54 L158.61 151.08 L160.28 151.62 L161.94 152.16 L163.61 152.70 L165.28 153.24 L166.95 153.78 L168.61 154.32 L170.28 154.86 L171.95 155.40 L173.62 155.94 L175.28 156.48 L176.95 157.02 L178.62 157.56 L180.29 158.11 L181.95 158.65 L183.62 159.19 L185.29 159.73 L186.96 160.28 L188.62 160.82 L190.29 161.37 L191.96 161.91 L193.62 162.45 L195.29 163.00 L196.96 163.55 L198.63 164.09 L200.29 164.64 L201.96 165.18 L203.63 165.73 L205.30 166.28 L206.96 166.83 L208.63 167.37 L210.30 167.92 L211.97 168.47 L213.63 169.02 L215.30 169.57 L216.97 170.12 L218.64 170.67 L220.30 171.22 L221.97 171.78 L223.64 172.33 L225.31 172.88 L226.97 173.43 L228.64 173.99 L230.31 174.54 L231.98 175.09 L233.64 175.65 L235.31 176.20 L236.98 176.76 L238.65 177.32 L240.31 177.87 L241.98 178.43 L243.65 178.99 L245.31 179.55 L246.98 180.11 L248.65 180.67 L250.32 181.23 L251.98 181.79 L253.65 182.35 L255.32 182.91 L256.99 183.47 L258.65 184.03 L260.32 184.60 L261.99 185.16 L263.66 185.73 L265.32 186.29 L266.99 186.86 L268.66 187.42 L270.33 187.99 L271.99 188.56 L273.66 189.13 L275.33 189.70 L277.00 190.27 L278.66 190.84 L280.33 191.41 L282.00 191.98 L283.67 192.55 L285.33 193.12 L287.00 193.70 L288.67 194.27 L290.34 194.85 L292.00 195.42 L293.67 196.00 L295.34 196.58 L297.00 197.16 L298.67 197.74 L300.34 198.32 L302.01 198.90 L303.67 199.48 L305.34 200.06 L307.01 200.65 L308.68 201.23 L310.34 201.81 L312.01 202.40 L313.68 202.99 L315.35 203.58 L317.01 204.16 L318.68 204.75 L320.35 205.34 L322.02 205.94 L323.68 206.53 L325.35 207.12 L327.02 207.72 L328.69 208.31 L330.35 208.91 L332.02 209.51 L333.69 210.10 L335.36 210.70 L337.02 211.30 L338.69 211.91 L340.36 212.51 L342.03 213.11 L343.69 213.72 L345.36 214.32 L347.03 214.93 L348.69 215.54 L350.36 216.15 L352.03 216.76 L353.70 217.37 L355.36 217.99 L357.03 218.60 L358.70 219.22 L360.37 219.83 L362.03 220.45 L363.70 221.07 L365.37 221.69 L367.04 222.31 L368.70 222.94 L370.37 223.56 L372.04 224.19 L373.71 224.82 L375.37 225.45 L377.04 226.08 L378.71 226.71 L380.38 227.34 L382.04 227.98 L383.71 228.61 L385.38 229.25 L387.05 229.89 L388.71 230.53 L390.38 231.18 L392.05 231.82 L393.72 232.47 L395.38 233.11 L397.05 233.76 L398.72 234.42 L400.38 235.07 L402.05 235.72 L403.72 236.38 L405.39 237.04 L407.05 237.70 L408.72 238.36 L410.39 239.02 L412.06 239.69 L413.72 240.36 L415.39 241.03 L417.06 241.70 L418.73 242.37 L420.39 243.05 L422.06 243.73 L423.73 244.41 L425.40 245.09 L427.06 245.77 L428.73 246.46 L430.40 247.15 L432.07 247.84 L433.73 248.53 L435.40 249.22 L437.07 249.92 L438.74 250.62 L440.40 251.32 L442.07 252.03 L443.74 252.73 L445.41 253.44 L447.07 254.16 L448.74 254.87 L450.41 255.59 L452.07 256.31 L453.74 257.03 L455.41 257.75 L457.08 258.48 L458.74 259.21 L460.41 259.94 L462.08 260.68 L463.75 261.42 L465.41 262.16 L467.08 262.90 L468.75 263.65 L470.42 264.40 L472.08 265.15 L473.75 265.91 L475.42 266.67 L477.09 267.43 L478.75 268.20 L480.42 268.96 L482.09 269.74 L483.76 270.51 L485.42 271.29 L487.09 272.07 L488.76 272.86 L490.43 273.65 L492.09 274.44 L493.76 275.23 L495.43 276.03 L497.09 276.84 L498.76 277.64 L500.43 278.45 L502.10 279.27 L503.76 280.09 L505.43 280.91 L507.10 281.73 L508.77 282.56 L510.43 283.40 L512.10 284.24 L513.77 285.08 L515.44 285.93 L517.10 286.78 L518.77 287.63 L520.44 288.49 L522.11 289.35 L523.77 290.22 L525.44 291.10 L527.11 291.97 L528.78 292.85 L530.44 293.74 L532.11 294.63 L533.78 295.53 L535.45 296.43 L537.11 297.34 L538.78 298.25 L540.45 299.16 L542.12 300.09 L543.78 301.01 L545.45 301.94 L547.12 302.88 L548.78 303.82 L550.45 304.77 L552.12 305.73 L553.79 306.69 L555.45 307.65 L557.12 308.62 L558.79 309.60 L560.46 310.58 L562.12 311.57 L563.79 312.57 L565.46 313.57 L567.13 314.57 L568.79 315.59 L570.46 316.61 L572.13 317.63 L573.80 318.67 L575.46 319.71 L577.13 320.75 L578.80 321.81 L580.47 322.87 L582.13 323.93 L583.80 325.01 L585.47 326.09 L587.14 327.18 L588.80 328.28 L590.47 329.38 L592.14 330.49 L593.81 331.61 L595.47 332.74 L597.14 333.87 L598.81 335.01 L600.47 336.16 L602.14 337.32 L603.81 338.49 L605.48 339.67 L607.14 340.85 L608.81 342.04 L610.48 343.24 L612.15 344.45 L613.81 345.67 L615.48 346.90 L617.15 348.14 L618.82 349.39 L620.48 350.64 L622.15 351.91 L623.82 353.18 L625.49 354.47 L627.15 355.76 L628.82 357.07 L630.49 358.38 L632.16 359.71 L633.82 361.04 L635.49 362.39 L637.16 363.75 L638.83 365.12 L640.49 366.50 L642.16 367.89 L643.83 369.29 L645.50 370.70 L647.16 372.12 L648.83 373.56 L650.50 375.01 L652.16 376.47 L653.83 377.94 L655.50 379.43 L657.17 380.92 L658.83 382.43 L660.50 383.96 L662.17 385.49 L663.84 387.04 L665.50 388.60 L667.17 390.18 L668.84 391.77 L670.51 393.37 L672.17 394.99 L673.84 396.62 L675.51 398.26 L677.18 399.92 L678.84 401.60 L680.51 403.29 L682.18 404.99 L683.85 406.71 L685.51 408.45 L687.18 410.20 L688.85 411.97 L690.52 413.75 L692.18 415.55 L693.85 417.37 L695.52 419.20 L697.19 421.05 L698.85 422.92 L700.52 424.81 L702.19 426.71 L703.85 428.63 L705.52 430.57 L707.19 432.53 L708.86 434.50 L710.52 436.50 L712.19 438.51 L713.86 440.54 L715.53 442.59 L717.19 444.67 L718.86 446.76 L720.53 448.87 L722.20 451.01 L723.86 453.16 L725.53 455.34 L727.20 457.53 L728.87 459.75 L730.53 461.99 L732.20 464.25 L733.87 466.54 L735.54 468.85 L737.20 471.18 L738.87 473.53 L740.54 475.91 L742.21 478.31 L743.87 480.74 L745.54 483.19 L747.21 485.67 L748.88 488.17 L750.54 490.70 L752.21 493.25 L753.88 495.83 L755.54 498.44 L757.21 501.07 L758.88 503.73 L760.55 506.42 L762.21 509.13 L763.88 511.88 L765.55 514.65 L767.22 517.45 L768.88 520.29 L770.55 523.15 L772.22 526.04 L773.89 528.96 L775.55 531.92 L777.22 534.90 L778.89 537.92 L780.56 540.97 L782.22 544.05 L783.89 547.17 L785.56 550.32 L787.23 553.50 L788.89 556.72 L790.56 559.97 L792.23 563.25 L793.90 566.58 L795.56 569.94 L797.23 573.33 L798.90 576.77 L800.57 580.24 L802.23 583.75 L803.90 587.29" stroke="#ff0000" stroke-width="3" fill="none" stroke-dasharray="1.7 4.2"/><path d="M138.60 113.79 L140.27 114.40 L141.93 115.02 L143.60 115.64 L145.27 116.25 L146.94 116.87 L148.60 117.49 L150.27 118.11 L151.94 118.73 L153.61 119.35 L155.27 119.97 L156.94 120.59 L158.61 121.21 L160.28 121.83 L161.94 122.45 L163.61 123.08 L165.28 123.70 L166.95 124.33 L168.61 124.95 L170.28 125.58 L171.95 126.21 L173.62 126.84 L175.28 127.46 L176.95 128.09 L178.62 128.72 L180.29 129.36 L181.95 129.99 L183.62 130.62 L185.29 131.25 L186.96 131.89 L188.62 132.52 L190.29 133.16 L191.96 133.79 L193.62 134.43 L195.29 135.07 L196.96 135.71 L198.63 136.35 L200.29 136.99 L201.96 137.63 L203.63 138.27 L205.30 138.92 L206.96 139.56 L208.63 140.21 L210.30 140.85 L211.97 141.50 L213.63 142.15 L215.30 142.80 L216.97 143.45 L218.64 144.10 L220.30 144.75 L221.97 145.40 L223.64 146.06 L225.31 146.71 L226.97 147.37 L228.64 148.03 L230.31 148.69 L231.98 149.35 L233.64 150.01 L235.31 150.67 L236.98 151.33 L238.65 152.00 L240.31 152.66 L241.98 153.33 L243.65 153.99 L245.31 154.66 L246.98 155.33 L248.65 156.01 L250.32 156.68 L251.98 157.35 L253.65 158.03 L255.32 158.70 L256.99 159.38 L258.65 160.06 L260.32 160.74 L261.99 161.42 L263.66 162.11 L265.32 162.79 L266.99 163.48 L268.66 164.17 L270.33 164.86 L271.99 165.55 L273.66 166.24 L275.33 166.93 L277.00 167.63 L278.66 168.32 L280.33 169.02 L282.00 169.72 L283.67 170.42 L285.33 171.13 L287.00 171.83 L288.67 172.54 L290.34 173.25 L292.00 173.96 L293.67 174.67 L295.34 175.38 L297.00 176.10 L298.67 176.81 L300.34 177.53 L302.01 178.25 L303.67 178.98 L305.34 179.70 L307.01 180.43 L308.68 181.15 L310.34 181.89 L312.01 182.62 L313.68 183.35 L315.35 184.09 L317.01 184.83 L318.68 185.57 L320.35 186.31 L322.02 187.05 L323.68 187.80 L325.35 188.55 L327.02 189.30 L328.69 190.05 L330.35 190.81 L332.02 191.57 L333.69 192.33 L335.36 193.09 L337.02 193.86 L338.69 194.62 L340.36 195.39 L342.03 196.17 L343.69 196.94 L345.36 197.72 L347.03 198.50 L348.69 199.28 L350.36 200.07 L352.03 200.86 L353.70 201.65 L355.36 202.44 L357.03 203.24 L358.70 204.03 L360.37 204.84 L362.03 205.64 L363.70 206.45 L365.37 207.26 L367.04 208.07 L368.70 208.89 L370.37 209.71 L372.04 210.53 L373.71 211.36 L375.37 212.19 L377.04 213.02 L378.71 213.85 L380.38 214.69 L382.04 215.53 L383.71 216.38 L385.38 217.23 L387.05 218.08 L388.71 218.94 L390.38 219.80 L392.05 220.66 L393.72 221.52 L395.38 222.39 L397.05 223.27 L398.72 224.15 L400.38 225.03 L402.05 225.91 L403.72 226.80 L405.39 227.69 L407.05 228.59 L408.72 229.49 L410.39 230.40 L412.06 231.31 L413.72 232.22 L415.39 233.14 L417.06 234.06 L418.73 234.99 L420.39 235.92 L422.06 236.85 L423.73 237.79 L425.40 238.74 L427.06 239.68 L428.73 240.64 L430.40 241.60 L432.07 242.56 L433.73 243.53 L435.40 244.50 L437.07 245.48 L438.74 246.46 L440.40 247.45 L442.07 248.44 L443.74 249.44 L445.41 250.44 L447.07 251.45 L448.74 252.47 L450.41 253.49 L452.07 254.51 L453.74 255.54 L455.41 256.58 L457.08 257.62 L458.74 258.67 L460.41 259.72 L462.08 260.78 L463.75 261.85 L465.41 262.92 L467.08 264.00 L468.75 265.09 L470.42 266.18 L472.08 267.27 L473.75 268.38 L475.42 269.49 L477.09 270.61 L478.75 271.73 L480.42 272.86 L482.09 274.00 L483.76 275.14 L485.42 276.30 L487.09 277.45 L488.76 278.62 L490.43 279.79 L492.09 280.98 L493.76 282.16 L495.43 283.36 L497.09 284.56 L498.76 285.78 L500.43 287.00 L502.10 288.22 L503.76 289.46 L505.43 290.70 L507.10 291.95 L508.77 293.22 L510.43 294.48 L512.10 295.76 L513.77 297.05 L515.44 298.34 L517.10 299.65 L518.77 300.96 L520.44 302.28 L522.11 303.62 L523.77 304.96 L525.44 306.31 L527.11 307.67 L528.78 309.04 L530.44 310.42 L532.11 311.81 L533.78 313.21 L535.45 314.62 L537.11 316.04 L538.78 317.47 L540.45 318.91 L542.12 320.36 L543.78 321.83 L545.45 323.30 L547.12 324.79 L548.78 326.28 L550.45 327.79 L552.12 329.31 L553.79 330.84 L555.45 332.38 L557.12 333.94 L558.79 335.51 L560.46 337.09 L562.12 338.68 L563.79 340.28 L565.46 341.90 L567.13 343.53 L568.79 345.17 L570.46 346.83 L572.13 348.50 L573.80 350.18 L575.46 351.88 L577.13 353.59 L578.80 355.31 L580.47 357.05 L582.13 358.81 L583.80 360.57 L585.47 362.36 L587.14 364.15 L588.80 365.97 L590.47 367.80 L592.14 369.64 L593.81 371.50 L595.47 373.37 L597.14 375.27 L598.81 377.17 L600.47 379.10 L602.14 381.04 L603.81 382.99 L605.48 384.97 L607.14 386.96 L608.81 388.97 L610.48 391.00 L612.15 393.04 L613.81 395.11 L615.48 397.19 L617.15 399.29 L618.82 401.41 L620.48 403.55 L622.15 405.70 L623.82 407.88 L625.49 410.08 L627.15 412.29 L628.82 414.53 L630.49 416.79 L632.16 419.07 L633.82 421.37 L635.49 423.69 L637.16 426.03 L638.83 428.39 L640.49 430.78 L642.16 433.19 L643.83 435.62 L645.50 438.07 L647.16 440.55 L648.83 443.05 L650.50 445.57 L652.16 448.12 L653.83 450.69 L655.50 453.29 L657.17 455.91 L658.83 458.56 L660.50 461.23 L662.17 463.93 L663.84 466.66 L665.50 469.41 L667.17 472.19 L668.84 474.99 L670.51 477.83 L672.17 480.69 L673.84 483.58 L675.51 486.50 L677.18 489.44 L678.84 492.42 L680.51 495.42 L682.18 498.46 L683.85 501.53 L685.51 504.62 L687.18 507.75 L688.85 510.91 L690.52 514.10 L692.18 517.32 L693.85 520.58 L695.52 523.87 L697.19 527.19 L698.85 530.55 L700.52 533.94 L702.19 537.36 L703.85 540.82 L705.52 544.32 L707.19 547.85 L708.86 551.42 L710.52 555.02 L712.19 558.67 L713.86 562.35 L715.53 566.07 L717.19 569.82 L718.86 573.62 L720.53 577.46 L722.20 581.33 L723.86 585.25 L725.53 589.21 L727.20 593.21 L728.87 597.25 L730.53 601.34 L732.20 605.46 L733.87 609.64 L735.54 613.85 L737.20 618.11 L738.87 622.42 L740.54 626.77 L742.21 631.17 L743.87 635.62 L745.54 640.11 L747.21 644.65 L748.88 649.24 L750.54 653.88 L752.21 658.58 L753.88 663.32 L755.54 668.11 L757.21 672.95 L758.88 677.85 L760.55 682.80 L762.21 687.81 L763.88 692.86 L765.55 697.98 L767.22 703.15 L768.88 708.37 L770.55 713.66 L772.22 719.00 L773.89 724.40 L775.55 729.86 L777.22 735.38 L778.89 740.96 L780.56 746.60 L782.22 752.31 L783.89 758.08 L785.56 763.91 L787.23 769.80 L788.89 775.77 L790.56 781.79 L792.23 787.89 L793.90 794.05 L795.56 800.29 L797.23 806.59 L798.90 812.96 L800.57 819.40 L802.23 825.92 L803.90 832.51" stroke="#00ff00" stroke-width="3" fill="none"/><path d="M138.60 116.39 L140.27 116.99 L141.93 117.59 L143.60 118.19 L145.27 118.79 L146.94 119.39 L148.60 119.99 L150.27 120.59 L151.94 121.20 L153.61 121.80 L155.27 122.41 L156.94 123.01 L158.61 123.62 L160.28 124.22 L161.94 124.83 L163.61 125.44 L165.28 126.05 L166.95 126.66 L168.61 127.27 L170.28 127.88 L171.95 128.49 L173.62 129.10 L175.28 129.71 L176.95 130.33 L178.62 130.94 L180.29 131.55 L181.95 132.17 L183.62 132.79 L185.29 133.40 L186.96 134.02 L188.62 134.64 L190.29 135.26 L191.96 135.88 L193.62 136.50 L195.29 137.12 L196.96 137.75 L198.63 138.37 L200.29 139.00 L201.96 139.62 L203.63 140.25 L205.30 140.88 L206.96 141.50 L208.63 142.13 L210.30 142.76 L211.97 143.39 L213.63 144.03 L215.30 144.66 L216.97 145.29 L218.64 145.93 L220.30 146.56 L221.97 147.20 L223.64 147.84 L225.31 148.48 L226.97 149.12 L228.64 149.76 L230.31 150.40 L231.98 151.05 L233.64 151.69 L235.31 152.34 L236.98 152.98 L238.65 153.63 L240.31 154.28 L241.98 154.93 L243.65 155.58 L245.31 156.24 L246.98 156.89 L248.65 157.55 L250.32 158.20 L251.98 158.86 L253.65 159.52 L255.32 160.18 L256.99 160.84 L258.65 161.51 L260.32 162.17 L261.99 162.84 L263.66 163.50 L265.32 164.17 L266.99 164.84 L268.66 165.52 L270.33 166.19 L271.99 166.86 L273.66 167.54 L275.33 168.22 L277.00 168.90 L278.66 169.58 L280.33 170.26 L282.00 170.94 L283.67 171.63 L285.33 172.32 L287.00 173.00 L288.67 173.69 L290.34 174.39 L292.00 175.08 L293.67 175.78 L295.34 176.47 L297.00 177.17 L298.67 177.87 L300.34 178.58 L302.01 179.28 L303.67 179.99 L305.34 180.70 L307.01 181.41 L308.68 182.13 L310.34 182.85 L312.01 183.57 L313.68 184.29 L315.35 185.02 L317.01 185.75 L318.68 186.48 L320.35 187.21 L322.02 187.94 L323.68 188.68 L325.35 189.41 L327.02 190.15 L328.69 190.90 L330.35 191.64 L332.02 192.39 L333.69 193.14 L335.36 193.89 L337.02 194.64 L338.69 195.40 L340.36 196.16 L342.03 196.92 L343.69 197.69 L345.36 198.45 L347.03 199.22 L348.69 199.99 L350.36 200.77 L352.03 201.54 L353.70 202.32 L355.36 203.11 L357.03 203.89 L358.70 204.68 L360.37 205.47 L362.03 206.26 L363.70 207.06 L365.37 207.86 L367.04 208.66 L368.70 209.47 L370.37 210.28 L372.04 211.09 L373.71 211.90 L375.37 212.72 L377.04 213.54 L378.71 214.37 L380.38 215.19 L382.04 216.02 L383.71 216.86 L385.38 217.70 L387.05 218.54 L388.71 219.38 L390.38 220.24 L392.05 221.09 L393.72 221.95 L395.38 222.82 L397.05 223.69 L398.72 224.56 L400.38 225.43 L402.05 226.31 L403.72 227.20 L405.39 228.08 L407.05 228.97 L408.72 229.87 L410.39 230.77 L412.06 231.67 L413.72 232.58 L415.39 233.49 L417.06 234.41 L418.73 235.33 L420.39 236.25 L422.06 237.18 L423.73 238.11 L425.40 239.05 L427.06 239.99 L428.73 240.94 L430.40 241.89 L432.07 242.85 L433.73 243.81 L435.40 244.78 L437.07 245.75 L438.74 246.73 L440.40 247.71 L442.07 248.70 L443.74 249.69 L445.41 250.69 L447.07 251.69 L448.74 252.70 L450.41 253.71 L452.07 254.73 L453.74 255.76 L455.41 256.79 L457.08 257.82 L458.74 258.87 L460.41 259.91 L462.08 260.97 L463.75 262.03 L465.41 263.09 L467.08 264.17 L468.75 265.25 L470.42 266.33 L472.08 267.42 L473.75 268.52 L475.42 269.63 L477.09 270.75 L478.75 271.87 L480.42 272.99 L482.09 274.13 L483.76 275.27 L485.42 276.42 L487.09 277.58 L488.76 278.74 L490.43 279.91 L492.09 281.09 L493.76 282.27 L495.43 283.47 L497.09 284.67 L498.76 285.88 L500.43 287.09 L502.10 288.32 L503.76 289.55 L505.43 290.79 L507.10 292.04 L508.77 293.30 L510.43 294.56 L512.10 295.84 L513.77 297.12 L515.44 298.41 L517.10 299.72 L518.77 301.03 L520.44 302.35 L522.11 303.67 L523.77 305.01 L525.44 306.36 L527.11 307.72 L528.78 309.08 L530.44 310.46 L532.11 311.85 L533.78 313.24 L535.45 314.65 L537.11 316.07 L538.78 317.50 L540.45 318.94 L542.12 320.38 L543.78 321.84 L545.45 323.32 L547.12 324.80 L548.78 326.29 L550.45 327.80 L552.12 329.31 L553.79 330.84 L555.45 332.38 L557.12 333.94 L558.79 335.51 L560.46 337.09 L562.12 338.68 L563.79 340.28 L565.46 341.90 L567.13 343.53 L568.79 345.17 L570.46 346.83 L572.13 348.50 L573.80 350.18 L575.46 351.88 L577.13 353.59 L578.80 355.31 L580.47 357.05 L582.13 358.81 L583.80 360.57 L585.47 362.36 L587.14 364.15 L588.80 365.97 L590.47 367.80 L592.14 369.64 L593.81 371.50 L595.47 373.37 L597.14 375.27 L598.81 377.17 L600.47 379.10 L602.14 381.04 L603.81 382.99 L605.48 384.97 L607.14 386.96 L608.81 388.97 L610.48 391.00 L612.15 393.04 L613.81 395.11 L615.48 397.19 L617.15 399.29 L618.82 401.41 L620.48 403.55 L622.15 405.70 L623.82 407.88 L625.49 410.08 L627.15 412.29 L628.82 414.53 L630.49 416.79 L632.16 419.07 L633.82 421.37 L635.49 423.69 L637.16 426.03 L638.83 428.39 L640.49 430.78 L642.16 433.19 L643.83 435.62 L645.50 438.07 L647.16 440.55 L648.83 443.05 L650.50 445.57 L652.16 448.12 L653.83 450.69 L655.50 453.29 L657.17 455.91 L658.83 458.56 L660.50 461.23 L662.17 463.93 L663.84 466.66 L665.50 469.41 L667.17 472.19 L668.84 474.99 L670.51 477.83 L672.17 480.69 L673.84 483.58 L675.51 486.50 L677.18 489.44 L678.84 492.42 L680.51 495.42 L682.18 498.46 L683.85 501.53 L685.51 504.62 L687.18 507.75 L688.85 510.91 L690.52 514.10 L692.18 517.32 L693.85 520.58 L695.52 523.87 L697.19 527.19 L698.85 530.55 L700.52 533.94 L702.19 537.36 L703.85 540.82 L705.52 544.32 L707.19 547.85 L708.86 551.42 L710.52 555.02 L712.19 558.67 L713.86 562.35 L715.53 566.07 L717.19 569.82 L718.86 573.62 L720.53 577.46 L722.20 581.33 L723.86 585.25 L725.53 589.21 L727.20 593.21 L728.87 597.25 L730.53 601.34 L732.20 605.46 L733.87 609.64 L735.54 613.85 L737.20 618.11 L738.87 622.42 L740.54 626.77 L742.21 631.17 L743.87 635.62 L745.54 640.11 L747.21 644.65 L748.88 649.24 L750.54 653.88 L752.21 658.58 L753.88 663.32 L755.54 668.11 L757.21 672.95 L758.88 677.85 L760.55 682.80 L762.21 687.81 L763.88 692.86 L765.55 697.98 L767.22 703.15 L768.88 708.37 L770.55 713.66 L772.22 719.00 L773.89 724.40 L775.55 729.86 L777.22 735.38 L778.89 740.96 L780.56 746.60 L782.22 752.31 L783.89 758.08 L785.56 763.91 L787.23 769.80 L788.89 775.77 L790.56 781.79 L792.23 787.89 L793.90 794.05 L795.56 800.29 L797.23 806.59 L798.90 812.96 L800.57 819.40 L802.23 825.92 L803.90 832.51" stroke="#00ff00" stroke-width="3" fill="none" stroke-dasharray="9 7.7"/><path d="M138.60 168.53 L140.27 169.22 L141.93 169.92 L143.60 170.61 L145.27 171.31 L146.94 172.01 L148.60 172.71 L150.27 173.41 L151.94 174.12 L153.61 174.82 L155.27 175.53 L156.94 176.23 L158.61 176.94 L160.28 177.65 L161.94 178.36 L163.61 179.08 L165.28 179.79 L166.95 180.51 L168.61 181.22 L170.28 181.94 L171.95 182.66 L173.62 183.38 L175.28 184.11 L176.95 184.83 L178.62 185.56 L180.29 186.29 L181.95 187.02 L183.62 187.75 L185.29 188.48 L186.96 189.22 L188.62 189.95 L190.29 190.69 L191.96 191.43 L193.62 192.17 L195.29 192.92 L196.96 193.66 L198.63 194.41 L200.29 195.16 L201.96 195.91 L203.63 196.66 L205.30 197.41 L206.96 198.17 L208.63 198.93 L210.30 199.69 L211.97 200.45 L213.63 201.21 L215.30 201.98 L216.97 202.75 L218.64 203.52 L220.30 204.29 L221.97 205.06 L223.64 205.84 L225.31 206.62 L226.97 207.40 L228.64 208.18 L230.31 208.97 L231.98 209.75 L233.64 210.54 L235.31 211.34 L236.98 212.13 L238.65 212.93 L240.31 213.73 L241.98 214.53 L243.65 215.33 L245.31 216.14 L246.98 216.95 L248.65 217.76 L250.32 218.57 L251.98 219.39 L253.65 220.20 L255.32 221.03 L256.99 221.85 L258.65 222.68 L260.32 223.50 L261.99 224.34 L263.66 225.17 L265.32 226.01 L266.99 226.85 L268.66 227.69 L270.33 228.54 L271.99 229.39 L273.66 230.24 L275.33 231.09 L277.00 231.95 L278.66 232.81 L280.33 233.67 L282.00 234.54 L283.67 235.41 L285.33 236.28 L287.00 237.16 L288.67 238.04 L290.34 238.92 L292.00 239.81 L293.67 240.70 L295.34 241.59 L297.00 242.49 L298.67 243.39 L300.34 244.29 L302.01 245.20 L303.67 246.11 L305.34 247.02 L307.01 247.94 L308.68 248.86 L310.34 249.78 L312.01 250.71 L313.68 251.64 L315.35 252.58 L317.01 253.52 L318.68 254.46 L320.35 255.41 L322.02 256.36 L323.68 257.32 L325.35 258.28 L327.02 259.24 L328.69 260.21 L330.35 261.18 L332.02 262.16 L333.69 263.14 L335.36 264.12 L337.02 265.11 L338.69 266.10 L340.36 267.10 L342.03 268.11 L343.69 269.11 L345.36 270.13 L347.03 271.14 L348.69 272.16 L350.36 273.19 L352.03 274.22 L353.70 275.26 L355.36 276.30 L357.03 277.34 L358.70 278.40 L360.37 279.45 L362.03 280.51 L363.70 281.58 L365.37 282.65 L367.04 283.73 L368.70 284.81 L370.37 285.90 L372.04 286.99 L373.71 288.09 L375.37 289.20 L377.04 290.31 L378.71 291.42 L380.38 292.54 L382.04 293.67 L383.71 294.81 L385.38 295.95 L387.05 297.09 L388.71 298.24 L390.38 299.40 L392.05 300.57 L393.72 301.74 L395.38 302.91 L397.05 304.10 L398.72 305.29 L400.38 306.48 L402.05 307.69 L403.72 308.90 L405.39 310.11 L407.05 311.34 L408.72 312.57 L410.39 313.81 L412.06 315.05 L413.72 316.30 L415.39 317.56 L417.06 318.83 L418.73 320.10 L420.39 321.38 L422.06 322.67 L423.73 323.97 L425.40 325.28 L427.06 326.59 L428.73 327.91 L430.40 329.24 L432.07 330.57 L433.73 331.92 L435.40 333.27 L437.07 334.63 L438.74 336.00 L440.40 337.38 L442.07 338.77 L443.74 340.16 L445.41 341.57 L447.07 342.98 L448.74 344.41 L450.41 345.84 L452.07 347.28 L453.74 348.73 L455.41 350.19 L457.08 351.66 L458.74 353.14 L460.41 354.62 L462.08 356.12 L463.75 357.63 L465.41 359.15 L467.08 360.68 L468.75 362.22 L470.42 363.77 L472.08 365.33 L473.75 366.90 L475.42 368.48 L477.09 370.07 L478.75 371.67 L480.42 373.28 L482.09 374.91 L483.76 376.55 L485.42 378.19 L487.09 379.85 L488.76 381.52 L490.43 383.21 L492.09 384.90 L493.76 386.61 L495.43 388.33 L497.09 390.06 L498.76 391.80 L500.43 393.56 L502.10 395.33 L503.76 397.11 L505.43 398.90 L507.10 400.71 L508.77 402.53 L510.43 404.37 L512.10 406.21 L513.77 408.08 L515.44 409.95 L517.10 411.84 L518.77 413.75 L520.44 415.66 L522.11 417.60 L523.77 419.54 L525.44 421.51 L527.11 423.48 L528.78 425.47 L530.44 427.48 L532.11 429.50 L533.78 431.54 L535.45 433.60 L537.11 435.67 L538.78 437.75 L540.45 439.86 L542.12 441.97 L543.78 444.11 L545.45 446.26 L547.12 448.43 L548.78 450.62 L550.45 452.82 L552.12 455.04 L553.79 457.28 L555.45 459.54 L557.12 461.82 L558.79 464.11 L560.46 466.42 L562.12 468.75 L563.79 471.10 L565.46 473.47 L567.13 475.86 L568.79 478.27 L570.46 480.69 L572.13 483.14 L573.80 485.61 L575.46 488.10 L577.13 490.61 L578.80 493.14 L580.47 495.69 L582.13 498.26 L583.80 500.85 L585.47 503.47 L587.14 506.10 L588.80 508.76 L590.47 511.45 L592.14 514.15 L593.81 516.88 L595.47 519.63 L597.14 522.40 L598.81 525.20 L600.47 528.02 L602.14 530.87 L603.81 533.74 L605.48 536.63 L607.14 539.56 L608.81 542.50 L610.48 545.47 L612.15 548.47 L613.81 551.49 L615.48 554.54 L617.15 557.62 L618.82 560.72 L620.48 563.85 L622.15 567.01 L623.82 570.20 L625.49 573.41 L627.15 576.65 L628.82 579.92 L630.49 583.22 L632.16 586.55 L633.82 589.91 L635.49 593.30 L637.16 596.72 L638.83 600.17 L640.49 603.66 L642.16 607.17 L643.83 610.71 L645.50 614.29 L647.16 617.90 L648.83 621.54 L650.50 625.21 L652.16 628.92 L653.83 632.67 L655.50 636.44 L657.17 640.25 L658.83 644.10 L660.50 647.98 L662.17 651.90 L663.84 655.85 L665.50 659.84 L667.17 663.86 L668.84 667.93 L670.51 672.03 L672.17 676.17 L673.84 680.34 L675.51 684.56 L677.18 688.81 L678.84 693.11 L680.51 697.44 L682.18 701.82 L683.85 706.24 L685.51 710.69 L687.18 715.19 L688.85 719.74 L690.52 724.32 L692.18 728.95 L693.85 733.62 L695.52 738.34 L697.19 743.10 L698.85 747.91 L700.52 752.76 L702.19 757.66 L703.85 762.60 L705.52 767.59 L707.19 772.63 L708.86 777.72 L710.52 782.86 L712.19 788.04 L713.86 793.28 L715.53 798.56 L717.19 803.90 L718.86 809.29 L720.53 814.73 L722.20 820.22 L723.86 825.77 L725.53 831.36 L727.20 837.02 L728.87 842.73 L730.53 848.49 L732.20 854.31 L733.87 860.18 L735.54 866.12 L737.20 872.11 L738.87 878.16 L740.54 884.27 L742.21 890.43 L743.87 896.66 L745.54 902.95 L747.21 909.30 L748.88 915.72 L750.54 922.19 L752.21 928.73 L753.88 935.34 L755.54 942.01 L757.21 948.74 L758.88 955.55 L760.55 962.42 L762.21 969.35 L763.88 976.36 L765.55 983.43 L767.22 990.58 L768.88 997.79 L770.55 1005.08 L772.22 1012.44 L773.89 1019.88 L775.55 1027.38 L777.22 1034.97 L778.89 1042.62 L780.56 1050.36 L782.22 1058.17 L783.89 1066.06 L785.56 1074.03 L787.23 1082.08 L788.89 1090.21 L790.56 1098.42 L792.23 1106.71 L793.90 1115.09 L795.56 1123.55 L797.23 1132.09 L798.90 1140.73 L800.57 1149.44 L802.23 1158.25 L803.90 1167.15" stroke="#00ff00" stroke-width="3" fill="none" stroke-dasharray="1.7 4.2"/><path d="M138.60 165.01 L140.27 165.89 L141.93 166.78 L143.60 167.67 L145.27 168.56 L146.94 169.45 L148.60 170.35 L150.27 171.25 L151.94 172.15 L153.61 173.05 L155.27 173.96 L156.94 174.87 L158.61 175.78 L160.28 176.69 L161.94 177.61 L163.61 178.53 L165.28 179.46 L166.95 180.38 L168.61 181.31 L170.28 182.25 L171.95 183.18 L173.62 184.12 L175.28 185.06 L176.95 186.01 L178.62 186.96 L180.29 187.91 L181.95 188.86 L183.62 189.82 L185.29 190.78 L186.96 191.75 L188.62 192.71 L190.29 193.68 L191.96 194.66 L193.62 195.64 L195.29 196.62 L196.96 197.60 L198.63 198.59 L200.29 199.59 L201.96 200.58 L203.63 201.58 L205.30 202.59 L206.96 203.59 L208.63 204.60 L210.30 205.62 L211.97 206.64 L213.63 207.66 L215.30 208.69 L216.97 209.72 L218.64 210.75 L220.30 211.79 L221.97 212.84 L223.64 213.88 L225.31 214.94 L226.97 215.99 L228.64 217.05 L230.31 218.12 L231.98 219.19 L233.64 220.26 L235.31 221.34 L236.98 222.42 L238.65 223.51 L240.31 224.60 L241.98 225.69 L243.65 226.80 L245.31 227.90 L246.98 229.01 L248.65 230.13 L250.32 231.25 L251.98 232.37 L253.65 233.51 L255.32 234.64 L256.99 235.78 L258.65 236.93 L260.32 238.08 L261.99 239.24 L263.66 240.40 L265.32 241.57 L266.99 242.74 L268.66 243.92 L270.33 245.10 L271.99 246.29 L273.66 247.49 L275.33 248.69 L277.00 249.90 L278.66 251.11 L280.33 252.33 L282.00 253.55 L283.67 254.78 L285.33 256.02 L287.00 257.26 L288.67 258.51 L290.34 259.77 L292.00 261.03 L293.67 262.30 L295.34 263.58 L297.00 264.86 L298.67 266.15 L300.34 267.44 L302.01 268.74 L303.67 270.05 L305.34 271.37 L307.01 272.69 L308.68 274.02 L310.34 275.36 L312.01 276.70 L313.68 278.06 L315.35 279.42 L317.01 280.78 L318.68 282.16 L320.35 283.54 L322.02 284.93 L323.68 286.33 L325.35 287.73 L327.02 289.14 L328.69 290.56 L330.35 291.99 L332.02 293.43 L333.69 294.88 L335.36 296.33 L337.02 297.79 L338.69 299.27 L340.36 300.75 L342.03 302.23 L343.69 303.73 L345.36 305.24 L347.03 306.75 L348.69 308.28 L350.36 309.81 L352.03 311.35 L353.70 312.91 L355.36 314.47 L357.03 316.04 L358.70 317.62 L360.37 319.21 L362.03 320.81 L363.70 322.42 L365.37 324.04 L367.04 325.67 L368.70 327.31 L370.37 328.97 L372.04 330.63 L373.71 332.30 L375.37 333.98 L377.04 335.68 L378.71 337.38 L380.38 339.10 L382.04 340.83 L383.71 342.57 L385.38 344.32 L387.05 346.08 L388.71 347.85 L390.38 349.64 L392.05 351.43 L393.72 353.24 L395.38 355.06 L397.05 356.90 L398.72 358.74 L400.38 360.60 L402.05 362.47 L403.72 364.36 L405.39 366.25 L407.05 368.16 L408.72 370.09 L410.39 372.02 L412.06 373.97 L413.72 375.93 L415.39 377.91 L417.06 379.90 L418.73 381.91 L420.39 383.93 L422.06 385.96 L423.73 388.01 L425.40 390.07 L427.06 392.15 L428.73 394.24 L430.40 396.35 L432.07 398.47 L433.73 400.61 L435.40 402.76 L437.07 404.93 L438.74 407.12 L440.40 409.32 L442.07 411.54 L443.74 413.77 L445.41 416.02 L447.07 418.29 L448.74 420.57 L450.41 422.87 L452.07 425.19 L453.74 427.53 L455.41 429.88 L457.08 432.25 L458.74 434.64 L460.41 437.05 L462.08 439.47 L463.75 441.92 L465.41 444.38 L467.08 446.86 L468.75 449.36 L470.42 451.88 L472.08 454.42 L473.75 456.98 L475.42 459.56 L477.09 462.16 L478.75 464.78 L480.42 467.42 L482.09 470.08 L483.76 472.77 L485.42 475.47 L487.09 478.20 L488.76 480.94 L490.43 483.71 L492.09 486.50 L493.76 489.31 L495.43 492.15 L497.09 495.01 L498.76 497.89 L500.43 500.79 L502.10 503.72 L503.76 506.67 L505.43 509.65 L507.10 512.65 L508.77 515.68 L510.43 518.73 L512.10 521.80 L513.77 524.90 L515.44 528.03 L517.10 531.18 L518.77 534.35 L520.44 537.56 L522.11 540.79 L523.77 544.04 L525.44 547.33 L527.11 550.64 L528.78 553.98 L530.44 557.35 L532.11 560.74 L533.78 564.17 L535.45 567.62 L537.11 571.11 L538.78 574.62 L540.45 578.16 L542.12 581.73 L543.78 585.33 L545.45 588.97 L547.12 592.63 L548.78 596.33 L550.45 600.06 L552.12 603.82 L553.79 607.61 L555.45 611.43 L557.12 615.29 L558.79 619.18 L560.46 623.11 L562.12 627.07 L563.79 631.06 L565.46 635.09 L567.13 639.15 L568.79 643.25 L570.46 647.39 L572.13 651.56 L573.80 655.77 L575.46 660.01 L577.13 664.30 L578.80 668.62 L580.47 672.97 L582.13 677.37 L583.80 681.81 L585.47 686.28 L587.14 690.80 L588.80 695.36 L590.47 699.95 L592.14 704.59 L593.81 709.27 L595.47 713.99 L597.14 718.75 L598.81 723.56 L600.47 728.41 L602.14 733.30 L603.81 738.24 L605.48 743.22 L607.14 748.25 L608.81 753.32 L610.48 758.44 L612.15 763.61 L613.81 768.82 L615.48 774.08 L617.15 779.39 L618.82 784.75 L620.48 790.15 L622.15 795.61 L623.82 801.11 L625.49 806.67 L627.15 812.27 L628.82 817.93 L630.49 823.64 L632.16 829.40 L633.82 835.22 L635.49 841.09 L637.16 847.01 L638.83 852.99 L640.49 859.03 L642.16 865.12 L643.83 871.26 L645.50 877.47 L647.16 883.73 L648.83 890.05 L650.50 896.43 L652.16 902.87 L653.83 909.37 L655.50 915.93 L657.17 922.55 L658.83 929.23 L660.50 935.98 L662.17 942.79 L663.84 949.66 L665.50 956.60 L667.17 963.61 L668.84 970.68 L670.51 977.81 L672.17 985.02 L673.84 992.29 L675.51 999.63 L677.18 1007.04 L678.84 1014.53 L680.51 1022.08 L682.18 1029.70 L683.85 1037.40 L685.51 1045.17 L687.18 1053.01 L688.85 1060.93 L690.52 1068.93 L692.18 1077.00 L693.85 1085.15 L695.52 1093.37 L697.19 1101.68 L698.85 1110.06 L700.52 1118.53 L702.19 1127.07 L703.85 1135.70 L705.52 1144.41 L707.19 1153.21 L708.86 1162.09 L710.52 1171.05 L712.19 1180.10 L713.86 1189.24 L715.53 1198.47 L717.19 1207.79 L718.86 1217.19 L720.53 1226.69 L722.20 1236.28 L723.86 1245.96 L725.53 1255.74 L727.20 1265.61 L728.87 1275.58 L730.53 1285.64 L732.20 1295.81 L733.87 1306.07 L735.54 1316.43 L737.20 1326.89 L738.87 1337.45 L740.54 1348.12 L742.21 1358.89 L743.87 1369.77 L745.54 1380.75 L747.21 1391.84 L748.88 1403.04 L750.54 1414.35 L752.21 1425.77 L753.88 1437.30 L755.54 1448.94 L757.21 1460.70 L758.88 1472.57 L760.55 1484.56 L762.21 1496.67 L763.88 1508.90 L765.55 1521.25 L767.22 1533.72 L768.88 1546.31 L770.55 1559.03 L772.22 1571.87 L773.89 1584.84 L775.55 1597.93 L777.22 1611.16 L778.89 1624.52 L780.56 1638.00 L782.22 1651.63 L783.89 1665.38 L785.56 1679.28 L787.23 1693.31 L788.89 1707.48 L790.56 1721.79 L792.23 1736.24 L793.90 1750.84 L795.56 1765.58 L797.23 1780.46 L798.90 1795.50 L800.57 1810.68 L802.23 1826.02 L803.90 1841.51" stroke="#0000ff" stroke-width="3" fill="none"/><path d="M138.60 165.87 L140.27 166.75 L141.93 167.62 L143.60 168.50 L145.27 169.38 L146.94 170.26 L148.60 171.15 L150.27 172.04 L151.94 172.93 L153.61 173.83 L155.27 174.72 L156.94 175.62 L158.61 176.53 L160.28 177.43 L161.94 178.34 L163.61 179.25 L165.28 180.17 L166.95 181.09 L168.61 182.01 L170.28 182.93 L171.95 183.86 L173.62 184.79 L175.28 185.72 L176.95 186.66 L178.62 187.60 L180.29 188.54 L181.95 189.49 L183.62 190.44 L185.29 191.39 L186.96 192.35 L188.62 193.31 L190.29 194.27 L191.96 195.24 L193.62 196.21 L195.29 197.18 L196.96 198.16 L198.63 199.14 L200.29 200.13 L201.96 201.11 L203.63 202.11 L205.30 203.10 L206.96 204.10 L208.63 205.11 L210.30 206.12 L211.97 207.13 L213.63 208.14 L215.30 209.16 L216.97 210.19 L218.64 211.21 L220.30 212.25 L221.97 213.28 L223.64 214.32 L225.31 215.37 L226.97 216.42 L228.64 217.47 L230.31 218.53 L231.98 219.59 L233.64 220.66 L235.31 221.73 L236.98 222.81 L238.65 223.89 L240.31 224.97 L241.98 226.06 L243.65 227.16 L245.31 228.26 L246.98 229.37 L248.65 230.48 L250.32 231.59 L251.98 232.71 L253.65 233.84 L255.32 234.97 L256.99 236.10 L258.65 237.24 L260.32 238.39 L261.99 239.54 L263.66 240.70 L265.32 241.86 L266.99 243.03 L268.66 244.20 L270.33 245.38 L271.99 246.56 L273.66 247.75 L275.33 248.95 L277.00 250.15 L278.66 251.36 L280.33 252.58 L282.00 253.80 L283.67 255.02 L285.33 256.25 L287.00 257.49 L288.67 258.74 L290.34 259.99 L292.00 261.25 L293.67 262.51 L295.34 263.78 L297.00 265.06 L298.67 266.35 L300.34 267.64 L302.01 268.94 L303.67 270.24 L305.34 271.55 L307.01 272.87 L308.68 274.20 L310.34 275.53 L312.01 276.87 L313.68 278.22 L315.35 279.58 L317.01 280.94 L318.68 282.31 L320.35 283.69 L322.02 285.08 L323.68 286.47 L325.35 287.87 L327.02 289.28 L328.69 290.70 L330.35 292.13 L332.02 293.56 L333.69 295.01 L335.36 296.46 L337.02 297.92 L338.69 299.38 L340.36 300.86 L342.03 302.35 L343.69 303.84 L345.36 305.35 L347.03 306.86 L348.69 308.38 L350.36 309.91 L352.03 311.45 L353.70 313.00 L355.36 314.56 L357.03 316.13 L358.70 317.71 L360.37 319.30 L362.03 320.90 L363.70 322.50 L365.37 324.12 L367.04 325.75 L368.70 327.39 L370.37 329.04 L372.04 330.70 L373.71 332.37 L375.37 334.05 L377.04 335.75 L378.71 337.45 L380.38 339.16 L382.04 340.89 L383.71 342.63 L385.38 344.37 L387.05 346.13 L388.71 347.91 L390.38 349.69 L392.05 351.48 L393.72 353.29 L395.38 355.11 L397.05 356.94 L398.72 358.79 L400.38 360.65 L402.05 362.52 L403.72 364.40 L405.39 366.29 L407.05 368.20 L408.72 370.12 L410.39 372.06 L412.06 374.01 L413.72 375.97 L415.39 377.95 L417.06 379.94 L418.73 381.94 L420.39 383.96 L422.06 385.99 L423.73 388.04 L425.40 390.10 L427.06 392.17 L428.73 394.27 L430.40 396.37 L432.07 398.49 L433.73 400.63 L435.40 402.78 L437.07 404.95 L438.74 407.14 L440.40 409.34 L442.07 411.55 L443.74 413.79 L445.41 416.04 L447.07 418.30 L448.74 420.59 L450.41 422.89 L452.07 425.21 L453.74 427.54 L455.41 429.89 L457.08 432.26 L458.74 434.65 L460.41 437.06 L462.08 439.49 L463.75 441.93 L465.41 444.39 L467.08 446.87 L468.75 449.37 L470.42 451.89 L472.08 454.43 L473.75 456.99 L475.42 459.57 L477.09 462.17 L478.75 464.79 L480.42 467.43 L482.09 470.09 L483.76 472.77 L485.42 475.48 L487.09 478.20 L488.76 480.95 L490.43 483.72 L492.09 486.51 L493.76 489.32 L495.43 492.16 L497.09 495.01 L498.76 497.89 L500.43 500.80 L502.10 503.73 L503.76 506.68 L505.43 509.65 L507.10 512.65 L508.77 515.68 L510.43 518.73 L512.10 521.80 L513.77 524.90 L515.44 528.03 L517.10 531.18 L518.77 534.36 L520.44 537.56 L522.11 540.79 L523.77 544.05 L525.44 547.33 L527.11 550.64 L528.78 553.98 L530.44 557.35 L532.11 560.75 L533.78 564.17 L535.45 567.62 L537.11 571.11 L538.78 574.62 L540.45 578.16 L542.12 581.73 L543.78 585.34 L545.45 588.97 L547.12 592.63 L548.78 596.33 L550.45 600.06 L552.12 603.82 L553.79 607.61 L555.45 611.43 L557.12 615.29 L558.79 619.18 L560.46 623.11 L562.12 627.07 L563.79 631.06 L565.46 635.09 L567.13 639.15 L568.79 643.25 L570.46 647.39 L572.13 651.56 L573.80 655.77 L575.46 660.01 L577.13 664.30 L578.80 668.62 L580.47 672.98 L582.13 677.37 L583.80 681.81 L585.47 686.29 L587.14 690.80 L588.80 695.36 L590.47 699.95 L592.14 704.59 L593.81 709.27 L595.47 713.99 L597.14 718.76 L598.81 723.56 L600.47 728.41 L602.14 733.30 L603.81 738.24 L605.48 743.22 L607.14 748.25 L608.81 753.32 L610.48 758.44 L612.15 763.61 L613.81 768.82 L615.48 774.08 L617.15 779.39 L618.82 784.75 L620.48 790.15 L622.15 795.61 L623.82 801.11 L625.49 806.67 L627.15 812.27 L628.82 817.93 L630.49 823.64 L632.16 829.40 L633.82 835.22 L635.49 841.09 L637.16 847.01 L638.83 852.99 L640.49 859.03 L642.16 865.12 L643.83 871.26 L645.50 877.47 L647.16 883.73 L648.83 890.05 L650.50 896.43 L652.16 902.87 L653.83 909.37 L655.50 915.93 L657.17 922.55 L658.83 929.23 L660.50 935.98 L662.17 942.79 L663.84 949.66 L665.50 956.60 L667.17 963.61 L668.84 970.68 L670.51 977.81 L672.17 985.02 L673.84 992.29 L675.51 999.63 L677.18 1007.04 L678.84 1014.53 L680.51 1022.08 L682.18 1029.70 L683.85 1037.40 L685.51 1045.17 L687.18 1053.01 L688.85 1060.93 L690.52 1068.93 L692.18 1077.00 L693.85 1085.15 L695.52 1093.37 L697.19 1101.68 L698.85 1110.06 L700.52 1118.53 L702.19 1127.07 L703.85 1135.70 L705.52 1144.41 L707.19 1153.21 L708.86 1162.09 L710.52 1171.05 L712.19 1180.10 L713.86 1189.24 L715.53 1198.47 L717.19 1207.79 L718.86 1217.19 L720.53 1226.69 L722.20 1236.28 L723.86 1245.96 L725.53 1255.74 L727.20 1265.61 L728.87 1275.58 L730.53 1285.64 L732.20 1295.81 L733.87 1306.07 L735.54 1316.43 L737.20 1326.89 L738.87 1337.45 L740.54 1348.12 L742.21 1358.89 L743.87 1369.77 L745.54 1380.75 L747.21 1391.84 L748.88 1403.04 L750.54 1414.35 L752.21 1425.77 L753.88 1437.30 L755.54 1448.94 L757.21 1460.70 L758.88 1472.57 L760.55 1484.56 L762.21 1496.67 L763.88 1508.90 L765.55 1521.25 L767.22 1533.72 L768.88 1546.31 L770.55 1559.03 L772.22 1571.87 L773.89 1584.84 L775.55 1597.93 L777.22 1611.16 L778.89 1624.52 L780.56 1638.00 L782.22 1651.63 L783.89 1665.38 L785.56 1679.28 L787.23 1693.31 L788.89 1707.48 L790.56 1721.79 L792.23 1736.24 L793.90 1750.84 L795.56 1765.58 L797.23 1780.46 L798.90 1795.50 L800.57 1810.68 L802.23 1826.02 L803.90 1841.51" stroke="#0000ff" stroke-width="3" fill="none" stroke-dasharray="9 7.7"/><path d="M138.60 244.21 L140.27 245.34 L141.93 246.47 L143.60 247.61 L145.27 248.75 L146.94 249.90 L148.60 251.05 L150.27 252.20 L151.94 253.36 L153.61 254.52 L155.27 255.68 L156.94 256.85 L158.61 258.03 L160.28 259.21 L161.94 260.39 L163.61 261.58 L165.28 262.77 L166.95 263.96 L168.61 265.16 L170.28 266.37 L171.95 267.58 L173.62 268.79 L175.28 270.01 L176.95 271.24 L178.62 272.47 L180.29 273.70 L181.95 274.94 L183.62 276.18 L185.29 277.43 L186.96 278.68 L188.62 279.94 L190.29 281.20 L191.96 282.47 L193.62 283.75 L195.29 285.03 L196.96 286.31 L198.63 287.60 L200.29 288.90 L201.96 290.20 L203.63 291.50 L205.30 292.82 L206.96 294.13 L208.63 295.46 L210.30 296.79 L211.97 298.12 L213.63 299.46 L215.30 300.81 L216.97 302.16 L218.64 303.52 L220.30 304.89 L221.97 306.26 L223.64 307.63 L225.31 309.02 L226.97 310.41 L228.64 311.80 L230.31 313.21 L231.98 314.62 L233.64 316.03 L235.31 317.45 L236.98 318.88 L238.65 320.32 L240.31 321.76 L241.98 323.21 L243.65 324.67 L245.31 326.13 L246.98 327.60 L248.65 329.08 L250.32 330.56 L251.98 332.06 L253.65 333.56 L255.32 335.06 L256.99 336.58 L258.65 338.10 L260.32 339.63 L261.99 341.17 L263.66 342.71 L265.32 344.27 L266.99 345.83 L268.66 347.40 L270.33 348.97 L271.99 350.56 L273.66 352.15 L275.33 353.75 L277.00 355.37 L278.66 356.98 L280.33 358.61 L282.00 360.25 L283.67 361.89 L285.33 363.55 L287.00 365.21 L288.67 366.88 L290.34 368.56 L292.00 370.25 L293.67 371.95 L295.34 373.66 L297.00 375.38 L298.67 377.11 L300.34 378.84 L302.01 380.59 L303.67 382.35 L305.34 384.11 L307.01 385.89 L308.68 387.68 L310.34 389.48 L312.01 391.28 L313.68 393.10 L315.35 394.93 L317.01 396.77 L318.68 398.62 L320.35 400.48 L322.02 402.35 L323.68 404.23 L325.35 406.12 L327.02 408.03 L328.69 409.94 L330.35 411.87 L332.02 413.81 L333.69 415.76 L335.36 417.72 L337.02 419.70 L338.69 421.68 L340.36 423.68 L342.03 425.69 L343.69 427.71 L345.36 429.75 L347.03 431.80 L348.69 433.86 L350.36 435.93 L352.03 438.01 L353.70 440.11 L355.36 442.23 L357.03 444.35 L358.70 446.49 L360.37 448.64 L362.03 450.81 L363.70 452.99 L365.37 455.18 L367.04 457.39 L368.70 459.61 L370.37 461.85 L372.04 464.10 L373.71 466.37 L375.37 468.65 L377.04 470.94 L378.71 473.26 L380.38 475.58 L382.04 477.92 L383.71 480.28 L385.38 482.65 L387.05 485.04 L388.71 487.44 L390.38 489.86 L392.05 492.30 L393.72 494.75 L395.38 497.22 L397.05 499.71 L398.72 502.21 L400.38 504.73 L402.05 507.27 L403.72 509.82 L405.39 512.40 L407.05 514.99 L408.72 517.59 L410.39 520.22 L412.06 522.86 L413.72 525.53 L415.39 528.21 L417.06 530.91 L418.73 533.63 L420.39 536.37 L422.06 539.12 L423.73 541.90 L425.40 544.70 L427.06 547.51 L428.73 550.35 L430.40 553.20 L432.07 556.08 L433.73 558.98 L435.40 561.90 L437.07 564.84 L438.74 567.80 L440.40 570.78 L442.07 573.78 L443.74 576.81 L445.41 579.86 L447.07 582.93 L448.74 586.02 L450.41 589.14 L452.07 592.27 L453.74 595.43 L455.41 598.62 L457.08 601.83 L458.74 605.06 L460.41 608.32 L462.08 611.60 L463.75 614.90 L465.41 618.23 L467.08 621.58 L468.75 624.96 L470.42 628.37 L472.08 631.80 L473.75 635.26 L475.42 638.74 L477.09 642.25 L478.75 645.78 L480.42 649.35 L482.09 652.94 L483.76 656.56 L485.42 660.20 L487.09 663.87 L488.76 667.58 L490.43 671.31 L492.09 675.06 L493.76 678.85 L495.43 682.67 L497.09 686.52 L498.76 690.39 L500.43 694.30 L502.10 698.24 L503.76 702.21 L505.43 706.21 L507.10 710.24 L508.77 714.30 L510.43 718.40 L512.10 722.52 L513.77 726.68 L515.44 730.87 L517.10 735.10 L518.77 739.36 L520.44 743.65 L522.11 747.98 L523.77 752.34 L525.44 756.74 L527.11 761.17 L528.78 765.64 L530.44 770.14 L532.11 774.68 L533.78 779.26 L535.45 783.87 L537.11 788.52 L538.78 793.21 L540.45 797.93 L542.12 802.70 L543.78 807.50 L545.45 812.34 L547.12 817.22 L548.78 822.14 L550.45 827.11 L552.12 832.11 L553.79 837.15 L555.45 842.24 L557.12 847.36 L558.79 852.53 L560.46 857.74 L562.12 863.00 L563.79 868.29 L565.46 873.63 L567.13 879.02 L568.79 884.45 L570.46 889.92 L572.13 895.45 L573.80 901.01 L575.46 906.62 L577.13 912.28 L578.80 917.99 L580.47 923.75 L582.13 929.55 L583.80 935.40 L585.47 941.30 L587.14 947.25 L588.80 953.25 L590.47 959.30 L592.14 965.41 L593.81 971.56 L595.47 977.77 L597.14 984.02 L598.81 990.34 L600.47 996.70 L602.14 1003.12 L603.81 1009.59 L605.48 1016.12 L607.14 1022.71 L608.81 1029.35 L610.48 1036.04 L612.15 1042.80 L613.81 1049.61 L615.48 1056.48 L617.15 1063.41 L618.82 1070.40 L620.48 1077.44 L622.15 1084.55 L623.82 1091.72 L625.49 1098.96 L627.15 1106.25 L628.82 1113.61 L630.49 1121.03 L632.16 1128.51 L633.82 1136.06 L635.49 1143.68 L637.16 1151.36 L638.83 1159.11 L640.49 1166.92 L642.16 1174.81 L643.83 1182.76 L645.50 1190.78 L647.16 1198.87 L648.83 1207.03 L650.50 1215.26 L652.16 1223.57 L653.83 1231.95 L655.50 1240.40 L657.17 1248.92 L658.83 1257.52 L660.50 1266.20 L662.17 1274.95 L663.84 1283.77 L665.50 1292.68 L667.17 1301.66 L668.84 1310.73 L670.51 1319.87 L672.17 1329.09 L673.84 1338.40 L675.51 1347.79 L677.18 1357.26 L678.84 1366.81 L680.51 1376.45 L682.18 1386.17 L683.85 1395.98 L685.51 1405.88 L687.18 1415.86 L688.85 1425.94 L690.52 1436.10 L692.18 1446.36 L693.85 1456.70 L695.52 1467.14 L697.19 1477.67 L698.85 1488.29 L700.52 1499.01 L702.19 1509.83 L703.85 1520.74 L705.52 1531.75 L707.19 1542.86 L708.86 1554.06 L710.52 1565.37 L712.19 1576.78 L713.86 1588.29 L715.53 1599.90 L717.19 1611.62 L718.86 1623.45 L720.53 1635.38 L722.20 1647.42 L723.86 1659.56 L725.53 1671.82 L727.20 1684.19 L728.87 1696.66 L730.53 1709.25 L732.20 1721.96 L733.87 1734.78 L735.54 1747.71 L737.20 1760.76 L738.87 1773.93 L740.54 1787.22 L742.21 1800.63 L743.87 1814.16 L745.54 1827.82 L747.21 1841.59 L748.88 1855.50 L750.54 1869.52 L752.21 1883.68 L753.88 1897.97 L755.54 1912.38 L757.21 1926.93 L758.88 1941.60 L760.55 1956.42 L762.21 1971.36 L763.88 1986.45 L765.55 2001.67 L767.22 2017.03 L768.88 2032.53 L770.55 2048.17 L772.22 2063.95 L773.89 2079.88 L775.55 2095.96 L777.22 2112.18 L778.89 2128.55 L780.56 2145.07 L782.22 2161.74 L783.89 2178.56 L785.56 2195.54 L787.23 2212.67 L788.89 2229.96 L790.56 2247.41 L792.23 2265.02 L793.90 2282.79 L795.56 2300.73 L797.23 2318.83 L798.90 2337.09 L800.57 2355.53 L802.23 2374.13 L803.90 2392.91" stroke="#0000ff" stroke-width="3" fill="none" stroke-dasharray="1.7 4.2"/></g>
<path d="M388.09 79.54 H454.62" stroke="#000" stroke-width="2" />
<path d="M388.09 104.89 H454.62" stroke="#000" stroke-width="2" stroke-dasharray="9 7.7"/>
<path d="M388.09 130.24 H454.62" stroke="#000" stroke-width="2" stroke-dasharray="2 3.9"/>
<path d="M637.57 79.54 H704.11" stroke="#ffa500" stroke-width="2"/>
<path d="M637.57 104.89 H704.11" stroke="#ff0000" stroke-width="2"/>
<path d="M637.57 130.24 H704.11" stroke="#00ff00" stroke-width="2"/>
<path d="M637.57 155.59 H704.11" stroke="#0000ff" stroke-width="2"/>
<path d="M324.20 7.70 L324.20 20.30 M332.71 7.70 L332.71 20.30 M324.20 13.70 L332.71 13.70 M344.26 11.90 L344.26 20.30 M344.26 13.70 L343.04 12.50 L341.83 11.90 L340.00 11.90 L338.79 12.50 L337.57 13.70 L336.97 15.50 L336.97 16.70 L337.57 18.50 L338.79 19.70 L340.00 20.30 L341.83 20.30 L343.04 19.70 L344.26 18.50 M349.12 7.70 L349.12 20.30 M356.42 11.90 L355.20 12.50 L353.99 13.70 L353.38 15.50 L353.38 16.70 L353.99 18.50 L355.20 19.70 L356.42 20.30 L358.24 20.30 L359.46 19.70 L360.67 18.50 L361.28 16.70 L361.28 15.50 L360.67 13.70 L359.46 12.50 L358.24 11.90 L356.42 11.90 M386.81 13.10 L386.81 12.50 L386.20 11.90 L385.60 11.90 L384.99 12.50 L384.38 13.70 L383.16 16.70 L381.95 18.50 L380.73 19.70 L379.52 20.30 L377.09 20.30 L375.87 19.70 L375.26 19.10 L374.65 17.90 L374.65 16.70 L375.26 15.50 L375.87 14.90 L380.13 12.50 L380.73 11.90 L381.34 10.70 L381.34 9.50 L380.73 8.30 L379.52 7.70 L378.30 8.30 L377.69 9.50 L377.69 10.70 L378.30 12.50 L379.52 14.30 L382.56 18.50 L383.77 19.70 L384.99 20.30 L386.20 20.30 L386.81 19.70 L386.81 19.10 M408.70 9.50 L407.48 8.30 L405.66 7.70 L403.22 7.70 L401.40 8.30 L400.19 9.50 L400.19 10.70 L400.79 11.90 L401.40 12.50 L402.62 13.10 L406.26 14.30 L407.48 14.90 L408.09 15.50 L408.70 16.70 L408.70 18.50 L407.48 19.70 L405.66 20.30 L403.22 20.30 L401.40 19.70 L400.19 18.50 M412.95 11.90 L412.95 17.90 L413.56 19.70 L414.77 20.30 L416.60 20.30 L417.81 19.70 L419.64 17.90 M419.64 11.90 L419.64 20.30 M424.50 7.70 L424.50 20.30 M424.50 13.70 L425.72 12.50 L426.93 11.90 L428.76 11.90 L429.97 12.50 L431.19 13.70 L431.80 15.50 L431.80 16.70 L431.19 18.50 L429.97 19.70 L428.76 20.30 L426.93 20.30 L425.72 19.70 L424.50 18.50 M436.05 7.70 L436.05 20.30 M436.05 14.30 L437.87 12.50 L439.09 11.90 L440.91 11.90 L442.13 12.50 L442.74 14.30 L442.74 20.30 M454.29 11.90 L454.29 20.30 M454.29 13.70 L453.07 12.50 L451.86 11.90 L450.03 11.90 L448.82 12.50 L447.60 13.70 L446.99 15.50 L446.99 16.70 L447.60 18.50 L448.82 19.70 L450.03 20.30 L451.86 20.30 L453.07 19.70 L454.29 18.50 M459.15 7.70 L459.15 20.30 M466.44 11.90 L465.23 12.50 L464.01 13.70 L463.41 15.50 L463.41 16.70 L464.01 18.50 L465.23 19.70 L466.44 20.30 L468.27 20.30 L469.48 19.70 L470.70 18.50 L471.31 16.70 L471.31 15.50 L470.70 13.70 L469.48 12.50 L468.27 11.90 L466.44 11.90 M485.29 7.70 L485.29 20.30 M485.29 7.70 L490.15 20.30 M495.02 7.70 L490.15 20.30 M495.02 7.70 L495.02 20.30 M506.57 11.90 L506.57 20.30 M506.57 13.70 L505.35 12.50 L504.13 11.90 L502.31 11.90 L501.09 12.50 L499.88 13.70 L499.27 15.50 L499.27 16.70 L499.88 18.50 L501.09 19.70 L502.31 20.30 L504.13 20.30 L505.35 19.70 L506.57 18.50 M517.51 13.70 L516.90 12.50 L515.08 11.90 L513.25 11.90 L511.43 12.50 L510.82 13.70 L511.43 14.90 L512.64 15.50 L515.68 16.10 L516.90 16.70 L517.51 17.90 L517.51 18.50 L516.90 19.70 L515.08 20.30 L513.25 20.30 L511.43 19.70 L510.82 18.50 M527.84 13.70 L527.23 12.50 L525.41 11.90 L523.59 11.90 L521.76 12.50 L521.15 13.70 L521.76 14.90 L522.98 15.50 L526.02 16.10 L527.23 16.70 L527.84 17.90 L527.84 18.50 L527.23 19.70 L525.41 20.30 L523.59 20.30 L521.76 19.70 L521.15 18.50 M541.82 7.70 L541.82 20.30 M541.82 7.70 L549.72 7.70 M541.82 13.70 L546.69 13.70 M552.76 11.90 L552.76 17.90 L553.37 19.70 L554.59 20.30 L556.41 20.30 L557.63 19.70 L559.45 17.90 M559.45 11.90 L559.45 20.30 M564.31 11.90 L564.31 20.30 M564.31 14.30 L566.14 12.50 L567.35 11.90 L569.18 11.90 L570.39 12.50 L571.00 14.30 L571.00 20.30 M582.55 13.70 L581.33 12.50 L580.12 11.90 L578.30 11.90 L577.08 12.50 L575.86 13.70 L575.26 15.50 L575.26 16.70 L575.86 18.50 L577.08 19.70 L578.30 20.30 L580.12 20.30 L581.33 19.70 L582.55 18.50 M587.41 7.70 L587.41 17.90 L588.02 19.70 L589.24 20.30 L590.45 20.30 M585.59 11.90 L589.85 11.90 M593.49 7.70 L594.10 8.30 L594.71 7.70 L594.10 7.10 L593.49 7.70 M594.10 11.90 L594.10 20.30 M601.40 11.90 L600.18 12.50 L598.96 13.70 L598.36 15.50 L598.36 16.70 L598.96 18.50 L600.18 19.70 L601.40 20.30 L603.22 20.30 L604.43 19.70 L605.65 18.50 L606.26 16.70 L606.26 15.50 L605.65 13.70 L604.43 12.50 L603.22 11.90 L601.40 11.90 M610.51 11.90 L610.51 20.30 M610.51 14.30 L612.34 12.50 L613.55 11.90 L615.38 11.90 L616.59 12.50 L617.20 14.30 L617.20 20.30" fill="none" stroke="#000" stroke-width="1.5" stroke-linecap="butt" stroke-linejoin="round"/>
<path d="M126.10 28.90 L124.30 29.50 L123.10 31.30 L122.50 34.30 L122.50 36.10 L123.10 39.10 L124.30 40.90 L126.10 41.50 L127.30 41.50 L129.10 40.90 L130.30 39.10 L130.90 36.10 L130.90 34.30 L130.30 31.30 L129.10 29.50 L127.30 28.90 L126.10 28.90" fill="none" stroke="#000" stroke-width="1.5" stroke-linecap="butt" stroke-linejoin="round"/>
<path d="M107.50 132.30 L118.30 132.30 M123.10 128.10 L123.10 127.50 L123.70 126.30 L124.30 125.70 L125.50 125.10 L127.90 125.10 L129.10 125.70 L129.70 126.30 L130.30 127.50 L130.30 128.70 L129.70 129.90 L128.50 131.70 L122.50 137.70 L130.90 137.70" fill="none" stroke="#000" stroke-width="1.5" stroke-linecap="butt" stroke-linejoin="round"/>
<path d="M107.50 233.70 L118.30 233.70 M128.50 226.50 L122.50 234.90 L131.50 234.90 M128.50 226.50 L128.50 239.10" fill="none" stroke="#000" stroke-width="1.5" stroke-linecap="butt" stroke-linejoin="round"/>
<path d="M107.50 335.20 L118.30 335.20 M130.30 329.80 L129.70 328.60 L127.90 328.00 L126.70 328.00 L124.90 328.60 L123.70 330.40 L123.10 333.40 L123.10 336.40 L123.70 338.80 L124.90 340.00 L126.70 340.60 L127.30 340.60 L129.10 340.00 L130.30 338.80 L130.90 337.00 L130.90 336.40 L130.30 334.60 L129.10 333.40 L127.30 332.80 L126.70 332.80 L124.90 333.40 L123.70 334.60 L123.10 336.40" fill="none" stroke="#000" stroke-width="1.5" stroke-linecap="butt" stroke-linejoin="round"/>
<path d="M107.50 436.60 L118.30 436.60 M125.50 429.40 L123.70 430.00 L123.10 431.20 L123.10 432.40 L123.70 433.60 L124.90 434.20 L127.30 434.80 L129.10 435.40 L130.30 436.60 L130.90 437.80 L130.90 439.60 L130.30 440.80 L129.70 441.40 L127.90 442.00 L125.50 442.00 L123.70 441.40 L123.10 440.80 L122.50 439.60 L122.50 437.80 L123.10 436.60 L124.30 435.40 L126.10 434.80 L128.50 434.20 L129.70 433.60 L130.30 432.40 L130.30 431.20 L129.70 430.00 L127.90 429.40 L125.50 429.40" fill="none" stroke="#000" stroke-width="1.5" stroke-linecap="butt" stroke-linejoin="round"/>
<path d="M95.50 530.70 L106.30 530.70 M112.30 525.90 L113.50 525.30 L115.30 523.50 L115.30 536.10 M126.10 523.50 L124.30 524.10 L123.10 525.90 L122.50 528.90 L122.50 530.70 L123.10 533.70 L124.30 535.50 L126.10 536.10 L127.30 536.10 L129.10 535.50 L130.30 533.70 L130.90 530.70 L130.90 528.90 L130.30 525.90 L129.10 524.10 L127.30 523.50 L126.10 523.50" fill="none" stroke="#000" stroke-width="1.5" stroke-linecap="butt" stroke-linejoin="round"/>
<path d="M129.66 552.28 L130.88 551.67 L132.71 549.84 L132.71 562.65 M141.86 552.28 L143.08 551.67 L144.91 549.84 L144.91 562.65" fill="none" stroke="#000" stroke-width="1.5" stroke-linecap="butt" stroke-linejoin="round"/>
<path d="M295.96 552.28 L297.18 551.67 L299.01 549.84 L299.01 562.65 M306.94 552.89 L306.94 552.28 L307.55 551.06 L308.16 550.45 L309.38 549.84 L311.82 549.84 L313.04 550.45 L313.65 551.06 L314.26 552.28 L314.26 553.50 L313.65 554.72 L312.43 556.55 L306.33 562.65 L314.87 562.65" fill="none" stroke="#000" stroke-width="1.5" stroke-linecap="butt" stroke-linejoin="round"/>
<path d="M462.26 552.28 L463.48 551.67 L465.31 549.84 L465.31 562.65 M473.85 549.84 L480.56 549.84 L476.90 554.72 L478.73 554.72 L479.95 555.33 L480.56 555.94 L481.17 557.77 L481.17 558.99 L480.56 560.82 L479.34 562.04 L477.51 562.65 L475.68 562.65 L473.85 562.04 L473.24 561.43 L472.63 560.21" fill="none" stroke="#000" stroke-width="1.5" stroke-linecap="butt" stroke-linejoin="round"/>
<path d="M628.46 552.28 L629.68 551.67 L631.51 549.84 L631.51 562.65 M644.93 549.84 L638.83 558.38 L647.98 558.38 M644.93 549.84 L644.93 562.65" fill="none" stroke="#000" stroke-width="1.5" stroke-linecap="butt" stroke-linejoin="round"/>
<path d="M794.96 552.28 L796.18 551.67 L798.01 549.84 L798.01 562.65 M812.65 549.84 L806.55 549.84 L805.94 555.33 L806.55 554.72 L808.38 554.11 L810.21 554.11 L812.04 554.72 L813.26 555.94 L813.87 557.77 L813.87 558.99 L813.26 560.82 L812.04 562.04 L810.21 562.65 L808.38 562.65 L806.55 562.04 L805.94 561.43 L805.33 560.21" fill="none" stroke="#000" stroke-width="1.5" stroke-linecap="butt" stroke-linejoin="round"/>
<path d="M421.64 572.61 L421.64 585.10 M428.68 576.77 L427.50 577.37 L426.33 578.56 L425.74 580.34 L425.74 581.53 L426.33 583.32 L427.50 584.50 L428.68 585.10 L430.44 585.10 L431.61 584.50 L432.78 583.32 L433.37 581.53 L433.37 580.34 L432.78 578.56 L431.61 577.37 L430.44 576.77 L428.68 576.77 M443.92 576.77 L443.92 586.29 L443.34 588.08 L442.75 588.67 L441.58 589.26 L439.82 589.26 L438.65 588.67 M443.92 578.56 L442.75 577.37 L441.58 576.77 L439.82 576.77 L438.65 577.37 L437.47 578.56 L436.89 580.34 L436.89 581.53 L437.47 583.32 L438.65 584.50 L439.82 585.10 L441.58 585.10 L442.75 584.50 L443.92 583.32 M458.00 572.61 L458.00 585.10 M458.00 572.61 L462.69 585.10 M467.38 572.61 L462.69 585.10 M467.38 572.61 L467.38 585.10 M470.76 582.52 L470.76 588.02 M474.37 582.52 L474.37 588.02 M470.76 585.14 L474.37 585.14 M487.13 570.23 L487.13 589.26 M487.13 570.23 L491.23 570.23 M487.13 589.26 L491.23 589.26 M495.34 572.61 L495.34 585.10 M495.34 572.61 L500.03 585.10 M504.72 572.61 L500.03 585.10 M504.72 572.61 L504.72 585.10 M513.39 584.87 L513.33 585.44 L513.17 585.98 L512.91 586.47 L512.55 586.91 L512.12 587.27 L511.63 587.53 L511.10 587.70 L510.55 587.75 L509.99 587.70 L509.46 587.53 L508.97 587.27 L508.54 586.91 L508.19 586.47 L507.93 585.98 L507.76 585.44 L507.71 584.87 L507.76 584.31 L507.93 583.77 L508.19 583.27 L508.54 582.84 L508.97 582.48 L509.46 582.21 L509.99 582.05 L510.55 581.99 L511.10 582.05 L511.63 582.21 L512.12 582.48 L512.55 582.84 L512.91 583.27 L513.17 583.77 L513.33 584.31 L513.39 584.87 M511.12 584.87 L511.04 585.16 L510.83 585.37 L510.55 585.45 L510.26 585.37 L510.06 585.16 L509.98 584.87 L510.06 584.59 L510.26 584.38 L510.55 584.30 L510.83 584.38 L511.04 584.59 L511.12 584.87 M519.25 570.23 L519.25 589.26 M515.15 570.23 L519.25 570.23 M515.15 589.26 L519.25 589.26" fill="none" stroke="#000" stroke-width="1.5" stroke-linecap="butt" stroke-linejoin="round"/>
<path d="M0.00 -12.49 L0.00 0.00 M7.01 -8.33 L5.84 -7.73 L4.67 -6.54 L4.09 -4.76 L4.09 -3.57 L4.67 -1.78 L5.84 -0.59 L7.01 0.00 L8.76 0.00 L9.93 -0.59 L11.10 -1.78 L11.68 -3.57 L11.68 -4.76 L11.10 -6.54 L9.93 -7.73 L8.76 -8.33 L7.01 -8.33 M22.19 -8.33 L22.19 1.19 L21.61 2.97 L21.02 3.57 L19.85 4.17 L18.10 4.17 L16.93 3.57 M22.19 -6.54 L21.02 -7.73 L19.85 -8.33 L18.10 -8.33 L16.93 -7.73 L15.77 -6.54 L15.18 -4.76 L15.18 -3.57 L15.77 -1.78 L16.93 -0.59 L18.10 0.00 L19.85 0.00 L21.02 -0.59 L22.19 -1.78 M36.21 -12.49 L36.21 0.00 M36.21 -12.49 L44.38 0.00 M44.38 -12.49 L44.38 0.00 M53.14 -14.88 L51.97 -13.68 L50.80 -11.90 L49.64 -9.52 L49.05 -6.54 L49.05 -4.17 L49.64 -1.19 L50.80 1.19 L51.97 2.97 L53.14 4.17 M57.23 -12.49 L57.23 0.00 M64.24 -8.33 L63.07 -7.73 L61.90 -6.54 L61.32 -4.76 L61.32 -3.57 L61.90 -1.78 L63.07 -0.59 L64.24 0.00 L65.99 0.00 L67.16 -0.59 L68.32 -1.78 L68.91 -3.57 L68.91 -4.76 L68.32 -6.54 L67.16 -7.73 L65.99 -8.33 L64.24 -8.33 M79.42 -8.33 L79.42 1.19 L78.83 2.97 L78.25 3.57 L77.08 4.17 L75.33 4.17 L74.16 3.57 M79.42 -6.54 L78.25 -7.73 L77.08 -8.33 L75.33 -8.33 L74.16 -7.73 L72.99 -6.54 L72.41 -4.76 L72.41 -3.57 L72.99 -1.78 L74.16 -0.59 L75.33 0.00 L77.08 0.00 L78.25 -0.59 L79.42 -1.78 M93.43 -12.49 L93.43 0.00 M93.43 -12.49 L98.11 0.00 M102.78 -12.49 L98.11 0.00 M102.78 -12.49 L102.78 0.00 M106.14 -2.58 L106.14 2.92 M109.74 -2.58 L109.74 2.92 M106.14 0.04 L109.74 0.04 M112.52 -14.88 L113.69 -13.68 L114.85 -11.90 L116.02 -9.52 L116.60 -6.54 L116.60 -4.17 L116.02 -1.19 L114.85 1.19 L113.69 2.97 L112.52 4.17 M130.62 -14.88 L130.62 4.17 M130.62 -14.88 L134.71 -14.88 M130.62 4.17 L134.71 4.17 M138.80 -12.49 L138.80 0.00 M138.80 -12.49 L143.47 0.00 M148.14 -12.49 L143.47 0.00 M148.14 -12.49 L148.14 0.00 M152.81 -8.33 L152.81 4.17 M152.81 -6.54 L153.98 -7.73 L155.15 -8.33 L156.90 -8.33 L158.07 -7.73 L159.23 -6.54 L159.82 -4.76 L159.82 -3.57 L159.23 -1.78 L158.07 -0.59 L156.90 0.00 L155.15 0.00 L153.98 -0.59 L152.81 -1.78 M170.33 -6.54 L169.16 -7.73 L167.99 -8.33 L166.24 -8.33 L165.07 -7.73 L163.91 -6.54 L163.32 -4.76 L163.32 -3.57 L163.91 -1.78 L165.07 -0.59 L166.24 0.00 L167.99 0.00 L169.16 -0.59 L170.33 -1.78 M173.11 -11.04 L177.73 -11.04 M180.05 -14.18 L182.87 -14.18 L181.33 -12.09 L182.10 -12.09 L182.62 -11.83 L182.87 -11.57 L183.13 -10.78 L183.13 -10.26 L182.87 -9.47 L182.36 -8.95 L181.59 -8.69 L180.82 -8.69 L180.05 -8.95 L179.79 -9.21 L179.53 -9.73 M189.74 -14.88 L189.74 4.17 M185.65 -14.88 L189.74 -14.88 M185.65 4.17 L189.74 4.17" fill="none" stroke="#000" stroke-width="1.5" stroke-linecap="butt" stroke-linejoin="round" transform="translate(77.9 378.14) rotate(-90)"/>
<path d="M475.04 71.16 L475.04 82.50 M471.33 71.16 L478.75 71.16 M483.52 74.94 L482.46 75.48 L481.40 76.56 L480.87 78.18 L480.87 79.26 L481.40 80.88 L482.46 81.96 L483.52 82.50 L485.11 82.50 L486.17 81.96 L487.23 80.88 L487.76 79.26 L487.76 78.18 L487.23 76.56 L486.17 75.48 L485.11 74.94 L483.52 74.94 M492.00 71.16 L492.00 80.34 L492.53 81.96 L493.59 82.50 L494.65 82.50 M490.41 74.94 L494.12 74.94 M503.66 74.94 L503.66 82.50 M503.66 76.56 L502.60 75.48 L501.54 74.94 L499.95 74.94 L498.89 75.48 L497.83 76.56 L497.30 78.18 L497.30 79.26 L497.83 80.88 L498.89 81.96 L499.95 82.50 L501.54 82.50 L502.60 81.96 L503.66 80.88 M507.90 71.16 L507.90 82.50" fill="none" stroke="#000" stroke-width="1.5" stroke-linecap="butt" stroke-linejoin="round"/>
<path d="M472.92 96.56 L472.92 107.90 M480.34 96.56 L480.34 107.90 M472.92 101.96 L480.34 101.96 M490.41 100.34 L490.41 107.90 M490.41 101.96 L489.35 100.88 L488.29 100.34 L486.70 100.34 L485.64 100.88 L484.58 101.96 L484.05 103.58 L484.05 104.66 L484.58 106.28 L485.64 107.36 L486.70 107.90 L488.29 107.90 L489.35 107.36 L490.41 106.28 M494.65 96.56 L494.65 107.90 M501.01 100.34 L499.95 100.88 L498.89 101.96 L498.36 103.58 L498.36 104.66 L498.89 106.28 L499.95 107.36 L501.01 107.90 L502.60 107.90 L503.66 107.36 L504.72 106.28 L505.25 104.66 L505.25 103.58 L504.72 101.96 L503.66 100.88 L502.60 100.34 L501.01 100.34" fill="none" stroke="#000" stroke-width="1.5" stroke-linecap="butt" stroke-linejoin="round"/>
<path d="M479.81 123.58 L478.75 122.50 L477.16 121.96 L475.04 121.96 L473.45 122.50 L472.39 123.58 L472.39 124.66 L472.92 125.74 L473.45 126.28 L474.51 126.82 L477.69 127.90 L478.75 128.44 L479.28 128.98 L479.81 130.06 L479.81 131.68 L478.75 132.76 L477.16 133.30 L475.04 133.30 L473.45 132.76 L472.39 131.68 M483.52 125.74 L483.52 131.14 L484.05 132.76 L485.11 133.30 L486.70 133.30 L487.76 132.76 L489.35 131.14 M489.35 125.74 L489.35 133.30 M493.59 121.96 L493.59 133.30 M493.59 127.36 L494.65 126.28 L495.71 125.74 L497.30 125.74 L498.36 126.28 L499.42 127.36 L499.95 128.98 L499.95 130.06 L499.42 131.68 L498.36 132.76 L497.30 133.30 L495.71 133.30 L494.65 132.76 L493.59 131.68 M503.66 121.96 L503.66 133.30 M503.66 127.90 L505.25 126.28 L506.31 125.74 L507.90 125.74 L508.96 126.28 L509.49 127.90 L509.49 133.30 M519.56 125.74 L519.56 133.30 M519.56 127.36 L518.50 126.28 L517.44 125.74 L515.85 125.74 L514.79 126.28 L513.73 127.36 L513.20 128.98 L513.20 130.06 L513.73 131.68 L514.79 132.76 L515.85 133.30 L517.44 133.30 L518.50 132.76 L519.56 131.68 M523.80 121.96 L523.80 133.30 M530.16 125.74 L529.10 126.28 L528.04 127.36 L527.51 128.98 L527.51 130.06 L528.04 131.68 L529.10 132.76 L530.16 133.30 L531.75 133.30 L532.81 132.76 L533.87 131.68 L534.40 130.06 L534.40 128.98 L533.87 127.36 L532.81 126.28 L531.75 125.74 L530.16 125.74" fill="none" stroke="#000" stroke-width="1.5" stroke-linecap="butt" stroke-linejoin="round"/>
<path d="M727.88 74.73 L722.00 82.50 M722.00 74.73 L727.88 74.73 M722.00 82.50 L727.88 82.50 M731.61 75.84 L741.23 75.84 M731.61 79.17 L741.23 79.17 M748.17 70.84 L746.57 71.40 L745.50 73.06 L744.96 75.84 L744.96 77.50 L745.50 80.28 L746.57 81.94 L748.17 82.50 L749.24 82.50 L750.84 81.94 L751.91 80.28 L752.44 77.50 L752.44 75.84 L751.91 73.06 L750.84 71.40 L749.24 70.84 L748.17 70.84" fill="none" stroke="#000" stroke-width="1.5" stroke-linecap="butt" stroke-linejoin="round"/>
<path d="M727.88 100.13 L722.00 107.90 M722.00 100.13 L727.88 100.13 M722.00 107.90 L727.88 107.90 M731.61 101.24 L741.23 101.24 M731.61 104.57 L741.23 104.57 M746.57 98.47 L747.63 97.91 L749.24 96.25 L749.24 107.90" fill="none" stroke="#000" stroke-width="1.5" stroke-linecap="butt" stroke-linejoin="round"/>
<path d="M727.88 125.53 L722.00 133.30 M722.00 125.53 L727.88 125.53 M722.00 133.30 L727.88 133.30 M731.61 126.64 L741.23 126.64 M731.61 129.97 L741.23 129.97 M746.03 121.65 L751.91 121.65 L748.70 126.09 L750.30 126.09 L751.37 126.64 L751.91 127.20 L752.44 128.86 L752.44 129.97 L751.91 131.64 L750.84 132.75 L749.24 133.30 L747.63 133.30 L746.03 132.75 L745.50 132.19 L744.96 131.08" fill="none" stroke="#000" stroke-width="1.5" stroke-linecap="butt" stroke-linejoin="round"/>
<path d="M727.88 150.93 L722.00 158.70 M722.00 150.93 L727.88 150.93 M722.00 158.70 L727.88 158.70 M731.61 152.04 L741.23 152.04 M731.61 155.37 L741.23 155.37 M751.91 148.71 L751.37 147.60 L749.77 147.04 L748.70 147.04 L747.10 147.60 L746.03 149.26 L745.50 152.04 L745.50 154.81 L746.03 157.03 L747.10 158.14 L748.70 158.70 L749.24 158.70 L750.84 158.14 L751.91 157.03 L752.44 155.37 L752.44 154.81 L751.91 153.15 L750.84 152.04 L749.24 151.48 L748.70 151.48 L747.10 152.04 L746.03 153.15 L745.50 154.81" fill="none" stroke="#000" stroke-width="1.5" stroke-linecap="butt" stroke-linejoin="round"/>
</svg></body></html>
